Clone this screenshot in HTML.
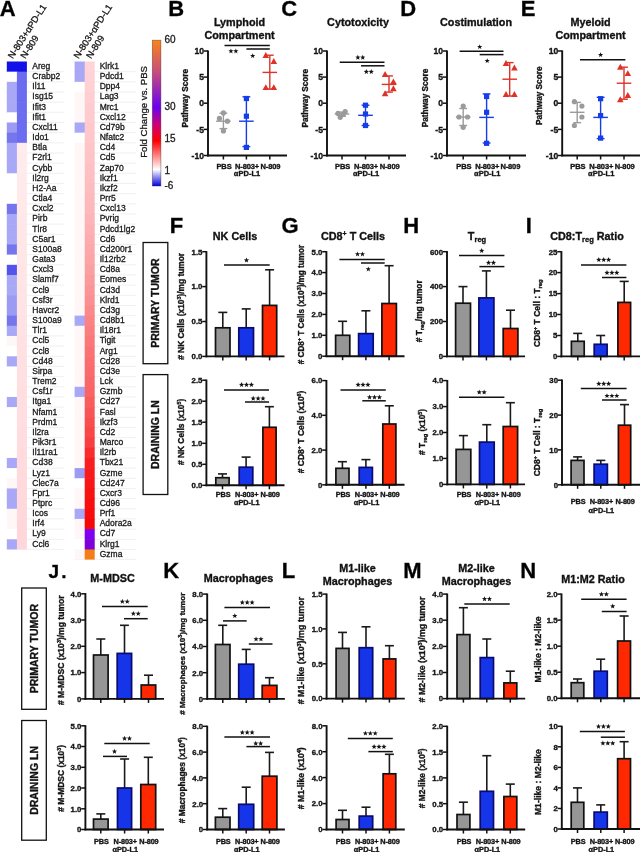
<!DOCTYPE html>
<html><head><meta charset="utf-8"><style>
html,body{margin:0;padding:0;background:#fff;width:640px;height:852px;overflow:hidden}
svg{display:block;will-change:transform}
text{stroke:#1a1a1a;stroke-width:0.3px}
text[font-weight="bold"]{stroke:#151515;stroke-width:0.35px}
text{font-family:"Liberation Sans", sans-serif}
</style></head><body>
<svg width="640" height="852" viewBox="0 0 640 852">
<rect width="640" height="852" fill="#fff"/>
<line x1="6.8" y1="71.66" x2="64.0" y2="71.66" stroke="#ececec" stroke-width="0.8"/>
<line x1="6.8" y1="81.83" x2="64.0" y2="81.83" stroke="#ececec" stroke-width="0.8"/>
<line x1="6.8" y1="92.00" x2="64.0" y2="92.00" stroke="#ececec" stroke-width="0.8"/>
<line x1="6.8" y1="102.16" x2="64.0" y2="102.16" stroke="#ececec" stroke-width="0.8"/>
<line x1="6.8" y1="112.32" x2="64.0" y2="112.32" stroke="#ececec" stroke-width="0.8"/>
<line x1="6.8" y1="122.49" x2="64.0" y2="122.49" stroke="#ececec" stroke-width="0.8"/>
<line x1="6.8" y1="132.66" x2="64.0" y2="132.66" stroke="#ececec" stroke-width="0.8"/>
<line x1="6.8" y1="142.82" x2="64.0" y2="142.82" stroke="#ececec" stroke-width="0.8"/>
<line x1="6.8" y1="152.98" x2="64.0" y2="152.98" stroke="#ececec" stroke-width="0.8"/>
<line x1="6.8" y1="163.15" x2="64.0" y2="163.15" stroke="#ececec" stroke-width="0.8"/>
<line x1="6.8" y1="173.31" x2="64.0" y2="173.31" stroke="#ececec" stroke-width="0.8"/>
<line x1="6.8" y1="183.48" x2="64.0" y2="183.48" stroke="#ececec" stroke-width="0.8"/>
<line x1="6.8" y1="193.64" x2="64.0" y2="193.64" stroke="#ececec" stroke-width="0.8"/>
<line x1="6.8" y1="203.81" x2="64.0" y2="203.81" stroke="#ececec" stroke-width="0.8"/>
<line x1="6.8" y1="213.97" x2="64.0" y2="213.97" stroke="#ececec" stroke-width="0.8"/>
<line x1="6.8" y1="224.14" x2="64.0" y2="224.14" stroke="#ececec" stroke-width="0.8"/>
<line x1="6.8" y1="234.30" x2="64.0" y2="234.30" stroke="#ececec" stroke-width="0.8"/>
<line x1="6.8" y1="244.47" x2="64.0" y2="244.47" stroke="#ececec" stroke-width="0.8"/>
<line x1="6.8" y1="254.63" x2="64.0" y2="254.63" stroke="#ececec" stroke-width="0.8"/>
<line x1="6.8" y1="264.80" x2="64.0" y2="264.80" stroke="#ececec" stroke-width="0.8"/>
<line x1="6.8" y1="274.96" x2="64.0" y2="274.96" stroke="#ececec" stroke-width="0.8"/>
<line x1="6.8" y1="285.13" x2="64.0" y2="285.13" stroke="#ececec" stroke-width="0.8"/>
<line x1="6.8" y1="295.30" x2="64.0" y2="295.30" stroke="#ececec" stroke-width="0.8"/>
<line x1="6.8" y1="305.46" x2="64.0" y2="305.46" stroke="#ececec" stroke-width="0.8"/>
<line x1="6.8" y1="315.62" x2="64.0" y2="315.62" stroke="#ececec" stroke-width="0.8"/>
<line x1="6.8" y1="325.79" x2="64.0" y2="325.79" stroke="#ececec" stroke-width="0.8"/>
<line x1="6.8" y1="335.95" x2="64.0" y2="335.95" stroke="#ececec" stroke-width="0.8"/>
<line x1="6.8" y1="346.12" x2="64.0" y2="346.12" stroke="#ececec" stroke-width="0.8"/>
<line x1="6.8" y1="356.29" x2="64.0" y2="356.29" stroke="#ececec" stroke-width="0.8"/>
<line x1="6.8" y1="366.45" x2="64.0" y2="366.45" stroke="#ececec" stroke-width="0.8"/>
<line x1="6.8" y1="376.62" x2="64.0" y2="376.62" stroke="#ececec" stroke-width="0.8"/>
<line x1="6.8" y1="386.78" x2="64.0" y2="386.78" stroke="#ececec" stroke-width="0.8"/>
<line x1="6.8" y1="396.94" x2="64.0" y2="396.94" stroke="#ececec" stroke-width="0.8"/>
<line x1="6.8" y1="407.11" x2="64.0" y2="407.11" stroke="#ececec" stroke-width="0.8"/>
<line x1="6.8" y1="417.27" x2="64.0" y2="417.27" stroke="#ececec" stroke-width="0.8"/>
<line x1="6.8" y1="427.44" x2="64.0" y2="427.44" stroke="#ececec" stroke-width="0.8"/>
<line x1="6.8" y1="437.60" x2="64.0" y2="437.60" stroke="#ececec" stroke-width="0.8"/>
<line x1="6.8" y1="447.77" x2="64.0" y2="447.77" stroke="#ececec" stroke-width="0.8"/>
<line x1="6.8" y1="457.94" x2="64.0" y2="457.94" stroke="#ececec" stroke-width="0.8"/>
<line x1="6.8" y1="468.10" x2="64.0" y2="468.10" stroke="#ececec" stroke-width="0.8"/>
<line x1="6.8" y1="478.26" x2="64.0" y2="478.26" stroke="#ececec" stroke-width="0.8"/>
<line x1="6.8" y1="488.43" x2="64.0" y2="488.43" stroke="#ececec" stroke-width="0.8"/>
<line x1="6.8" y1="498.59" x2="64.0" y2="498.59" stroke="#ececec" stroke-width="0.8"/>
<line x1="6.8" y1="508.76" x2="64.0" y2="508.76" stroke="#ececec" stroke-width="0.8"/>
<line x1="6.8" y1="518.92" x2="64.0" y2="518.92" stroke="#ececec" stroke-width="0.8"/>
<line x1="6.8" y1="529.09" x2="64.0" y2="529.09" stroke="#ececec" stroke-width="0.8"/>
<line x1="6.8" y1="539.25" x2="64.0" y2="539.25" stroke="#ececec" stroke-width="0.8"/>
<line x1="6.8" y1="549.42" x2="64.0" y2="549.42" stroke="#ececec" stroke-width="0.8"/>
<rect x="6.8" y="61.50" width="10.4" height="10.76" fill="rgb(18,18,232)"/>
<rect x="16.9" y="61.50" width="10.0" height="10.76" fill="rgb(18,18,232)"/>
<text x="32.3" y="68.90" font-size="8.5" fill="#161616">Areg</text>
<rect x="6.8" y="71.66" width="10.4" height="10.76" fill="rgb(255,255,255)"/>
<rect x="16.9" y="71.66" width="10.0" height="10.76" fill="rgb(108,108,240)"/>
<text x="32.3" y="79.06" font-size="8.5" fill="#161616">Crabp2</text>
<rect x="6.8" y="81.83" width="10.4" height="10.76" fill="rgb(168,168,246)"/>
<rect x="16.9" y="81.83" width="10.0" height="10.76" fill="rgb(108,108,240)"/>
<text x="32.3" y="89.23" font-size="8.5" fill="#161616">Il11</text>
<rect x="6.8" y="92.00" width="10.4" height="10.76" fill="rgb(168,168,246)"/>
<rect x="16.9" y="92.00" width="10.0" height="10.76" fill="rgb(108,108,240)"/>
<text x="32.3" y="99.40" font-size="8.5" fill="#161616">Isg15</text>
<rect x="6.8" y="102.16" width="10.4" height="10.76" fill="rgb(168,168,246)"/>
<rect x="16.9" y="102.16" width="10.0" height="10.76" fill="rgb(108,108,240)"/>
<text x="32.3" y="109.56" font-size="8.5" fill="#161616">Ifit3</text>
<rect x="6.8" y="112.32" width="10.4" height="10.76" fill="rgb(255,255,255)"/>
<rect x="16.9" y="112.32" width="10.0" height="10.76" fill="rgb(108,108,240)"/>
<text x="32.3" y="119.72" font-size="8.5" fill="#161616">Ifit1</text>
<rect x="6.8" y="122.49" width="10.4" height="10.76" fill="rgb(155,155,244)"/>
<rect x="16.9" y="122.49" width="10.0" height="10.76" fill="rgb(108,108,240)"/>
<text x="32.3" y="129.89" font-size="8.5" fill="#161616">Cxcl11</text>
<rect x="6.8" y="132.66" width="10.4" height="10.76" fill="rgb(118,118,236)"/>
<rect x="16.9" y="132.66" width="10.0" height="10.76" fill="rgb(108,108,240)"/>
<text x="32.3" y="140.06" font-size="8.5" fill="#161616">Ido1</text>
<rect x="6.8" y="142.82" width="10.4" height="10.76" fill="rgb(168,168,246)"/>
<rect x="16.9" y="142.82" width="10.0" height="10.76" fill="rgb(255,236,236)"/>
<text x="32.3" y="150.22" font-size="8.5" fill="#161616">Btla</text>
<rect x="6.8" y="152.98" width="10.4" height="10.76" fill="rgb(168,168,246)"/>
<rect x="16.9" y="152.98" width="10.0" height="10.76" fill="rgb(255,235,236)"/>
<text x="32.3" y="160.38" font-size="8.5" fill="#161616">F2rl1</text>
<rect x="6.8" y="163.15" width="10.4" height="10.76" fill="rgb(168,168,246)"/>
<rect x="16.9" y="163.15" width="10.0" height="10.76" fill="rgb(255,235,235)"/>
<text x="32.3" y="170.55" font-size="8.5" fill="#161616">Cybb</text>
<rect x="6.8" y="173.31" width="10.4" height="10.76" fill="rgb(255,255,255)"/>
<rect x="16.9" y="173.31" width="10.0" height="10.76" fill="rgb(255,234,235)"/>
<text x="32.3" y="180.72" font-size="8.5" fill="#161616">Il2rg</text>
<rect x="6.8" y="183.48" width="10.4" height="10.76" fill="rgb(255,255,255)"/>
<rect x="16.9" y="183.48" width="10.0" height="10.76" fill="rgb(255,234,234)"/>
<text x="32.3" y="190.88" font-size="8.5" fill="#161616">H2-Aa</text>
<rect x="6.8" y="193.64" width="10.4" height="10.76" fill="rgb(255,255,255)"/>
<rect x="16.9" y="193.64" width="10.0" height="10.76" fill="rgb(255,233,234)"/>
<text x="32.3" y="201.04" font-size="8.5" fill="#161616">Ctla4</text>
<rect x="6.8" y="203.81" width="10.4" height="10.76" fill="rgb(118,118,236)"/>
<rect x="16.9" y="203.81" width="10.0" height="10.76" fill="rgb(255,233,233)"/>
<text x="32.3" y="211.21" font-size="8.5" fill="#161616">Cxcl2</text>
<rect x="6.8" y="213.97" width="10.4" height="10.76" fill="rgb(168,168,246)"/>
<rect x="16.9" y="213.97" width="10.0" height="10.76" fill="rgb(255,232,233)"/>
<text x="32.3" y="221.38" font-size="8.5" fill="#161616">Pirb</text>
<rect x="6.8" y="224.14" width="10.4" height="10.76" fill="rgb(168,168,246)"/>
<rect x="16.9" y="224.14" width="10.0" height="10.76" fill="rgb(255,231,232)"/>
<text x="32.3" y="231.54" font-size="8.5" fill="#161616">Tlr8</text>
<rect x="6.8" y="234.30" width="10.4" height="10.76" fill="rgb(168,168,246)"/>
<rect x="16.9" y="234.30" width="10.0" height="10.76" fill="rgb(255,231,232)"/>
<text x="32.3" y="241.70" font-size="8.5" fill="#161616">C5ar1</text>
<rect x="6.8" y="244.47" width="10.4" height="10.76" fill="rgb(118,118,236)"/>
<rect x="16.9" y="244.47" width="10.0" height="10.76" fill="rgb(255,230,231)"/>
<text x="32.3" y="251.87" font-size="8.5" fill="#161616">S100a8</text>
<rect x="6.8" y="254.63" width="10.4" height="10.76" fill="rgb(255,255,255)"/>
<rect x="16.9" y="254.63" width="10.0" height="10.76" fill="rgb(255,230,231)"/>
<text x="32.3" y="262.03" font-size="8.5" fill="#161616">Gata3</text>
<rect x="6.8" y="264.80" width="10.4" height="10.76" fill="rgb(82,82,236)"/>
<rect x="16.9" y="264.80" width="10.0" height="10.76" fill="rgb(255,229,230)"/>
<text x="32.3" y="272.20" font-size="8.5" fill="#161616">Cxcl3</text>
<rect x="6.8" y="274.96" width="10.4" height="10.76" fill="rgb(168,168,246)"/>
<rect x="16.9" y="274.96" width="10.0" height="10.76" fill="rgb(255,229,230)"/>
<text x="32.3" y="282.36" font-size="8.5" fill="#161616">Slamf7</text>
<rect x="6.8" y="285.13" width="10.4" height="10.76" fill="rgb(168,168,246)"/>
<rect x="16.9" y="285.13" width="10.0" height="10.76" fill="rgb(255,228,230)"/>
<text x="32.3" y="292.53" font-size="8.5" fill="#161616">Ccl9</text>
<rect x="6.8" y="295.29" width="10.4" height="10.76" fill="rgb(155,155,244)"/>
<rect x="16.9" y="295.29" width="10.0" height="10.76" fill="rgb(255,228,229)"/>
<text x="32.3" y="302.69" font-size="8.5" fill="#161616">Csf3r</text>
<rect x="6.8" y="305.46" width="10.4" height="10.76" fill="rgb(155,155,244)"/>
<rect x="16.9" y="305.46" width="10.0" height="10.76" fill="rgb(255,227,229)"/>
<text x="32.3" y="312.86" font-size="8.5" fill="#161616">Havcr2</text>
<rect x="6.8" y="315.62" width="10.4" height="10.76" fill="rgb(118,118,236)"/>
<rect x="16.9" y="315.62" width="10.0" height="10.76" fill="rgb(255,226,228)"/>
<text x="32.3" y="323.02" font-size="8.5" fill="#161616">S100a9</text>
<rect x="6.8" y="325.79" width="10.4" height="10.76" fill="rgb(168,168,246)"/>
<rect x="16.9" y="325.79" width="10.0" height="10.76" fill="rgb(255,226,228)"/>
<text x="32.3" y="333.19" font-size="8.5" fill="#161616">Tlr1</text>
<rect x="6.8" y="335.95" width="10.4" height="10.76" fill="rgb(255,247,247)"/>
<rect x="16.9" y="335.95" width="10.0" height="10.76" fill="rgb(255,225,227)"/>
<text x="32.3" y="343.35" font-size="8.5" fill="#161616">Ccl5</text>
<rect x="6.8" y="346.12" width="10.4" height="10.76" fill="rgb(255,255,255)"/>
<rect x="16.9" y="346.12" width="10.0" height="10.76" fill="rgb(255,225,227)"/>
<text x="32.3" y="353.52" font-size="8.5" fill="#161616">Ccl8</text>
<rect x="6.8" y="356.28" width="10.4" height="10.76" fill="rgb(168,168,246)"/>
<rect x="16.9" y="356.28" width="10.0" height="10.76" fill="rgb(255,224,226)"/>
<text x="32.3" y="363.68" font-size="8.5" fill="#161616">Cd48</text>
<rect x="6.8" y="366.45" width="10.4" height="10.76" fill="rgb(255,255,255)"/>
<rect x="16.9" y="366.45" width="10.0" height="10.76" fill="rgb(255,224,226)"/>
<text x="32.3" y="373.85" font-size="8.5" fill="#161616">Sirpa</text>
<rect x="6.8" y="376.61" width="10.4" height="10.76" fill="rgb(255,255,255)"/>
<rect x="16.9" y="376.61" width="10.0" height="10.76" fill="rgb(255,223,225)"/>
<text x="32.3" y="384.01" font-size="8.5" fill="#161616">Trem2</text>
<rect x="6.8" y="386.78" width="10.4" height="10.76" fill="rgb(255,255,255)"/>
<rect x="16.9" y="386.78" width="10.0" height="10.76" fill="rgb(255,222,225)"/>
<text x="32.3" y="394.18" font-size="8.5" fill="#161616">Csf1r</text>
<rect x="6.8" y="396.94" width="10.4" height="10.76" fill="rgb(168,168,246)"/>
<rect x="16.9" y="396.94" width="10.0" height="10.76" fill="rgb(255,222,224)"/>
<text x="32.3" y="404.34" font-size="8.5" fill="#161616">Itga1</text>
<rect x="6.8" y="407.11" width="10.4" height="10.76" fill="rgb(255,255,255)"/>
<rect x="16.9" y="407.11" width="10.0" height="10.76" fill="rgb(255,221,224)"/>
<text x="32.3" y="414.51" font-size="8.5" fill="#161616">Nfam1</text>
<rect x="6.8" y="417.27" width="10.4" height="10.76" fill="rgb(255,255,255)"/>
<rect x="16.9" y="417.27" width="10.0" height="10.76" fill="rgb(255,221,224)"/>
<text x="32.3" y="424.67" font-size="8.5" fill="#161616">Prdm1</text>
<rect x="6.8" y="427.44" width="10.4" height="10.76" fill="rgb(255,255,255)"/>
<rect x="16.9" y="427.44" width="10.0" height="10.76" fill="rgb(255,220,223)"/>
<text x="32.3" y="434.84" font-size="8.5" fill="#161616">Il2ra</text>
<rect x="6.8" y="437.60" width="10.4" height="10.76" fill="rgb(255,255,255)"/>
<rect x="16.9" y="437.60" width="10.0" height="10.76" fill="rgb(255,220,223)"/>
<text x="32.3" y="445.00" font-size="8.5" fill="#161616">Pik3r1</text>
<rect x="6.8" y="447.77" width="10.4" height="10.76" fill="rgb(255,255,255)"/>
<rect x="16.9" y="447.77" width="10.0" height="10.76" fill="rgb(255,219,222)"/>
<text x="32.3" y="455.17" font-size="8.5" fill="#161616">Il11ra1</text>
<rect x="6.8" y="457.93" width="10.4" height="10.76" fill="rgb(168,168,246)"/>
<rect x="16.9" y="457.93" width="10.0" height="10.76" fill="rgb(255,219,222)"/>
<text x="32.3" y="465.33" font-size="8.5" fill="#161616">Cd38</text>
<rect x="6.8" y="468.10" width="10.4" height="10.76" fill="rgb(255,255,255)"/>
<rect x="16.9" y="468.10" width="10.0" height="10.76" fill="rgb(255,218,221)"/>
<text x="32.3" y="475.50" font-size="8.5" fill="#161616">Lyz1</text>
<rect x="6.8" y="478.26" width="10.4" height="10.76" fill="rgb(255,247,247)"/>
<rect x="16.9" y="478.26" width="10.0" height="10.76" fill="rgb(255,217,221)"/>
<text x="32.3" y="485.66" font-size="8.5" fill="#161616">Clec7a</text>
<rect x="6.8" y="488.43" width="10.4" height="10.76" fill="rgb(168,168,246)"/>
<rect x="16.9" y="488.43" width="10.0" height="10.76" fill="rgb(255,217,220)"/>
<text x="32.3" y="495.83" font-size="8.5" fill="#161616">Fpr1</text>
<rect x="6.8" y="498.59" width="10.4" height="10.76" fill="rgb(168,168,246)"/>
<rect x="16.9" y="498.59" width="10.0" height="10.76" fill="rgb(255,216,220)"/>
<text x="32.3" y="505.99" font-size="8.5" fill="#161616">Ptprc</text>
<rect x="6.8" y="508.76" width="10.4" height="10.76" fill="rgb(255,247,247)"/>
<rect x="16.9" y="508.76" width="10.0" height="10.76" fill="rgb(255,216,219)"/>
<text x="32.3" y="516.16" font-size="8.5" fill="#161616">Icos</text>
<rect x="6.8" y="518.92" width="10.4" height="10.76" fill="rgb(255,247,247)"/>
<rect x="16.9" y="518.92" width="10.0" height="10.76" fill="rgb(255,215,219)"/>
<text x="32.3" y="526.32" font-size="8.5" fill="#161616">Irf4</text>
<rect x="6.8" y="529.09" width="10.4" height="10.76" fill="rgb(255,255,255)"/>
<rect x="16.9" y="529.09" width="10.0" height="10.76" fill="rgb(255,215,218)"/>
<text x="32.3" y="536.49" font-size="8.5" fill="#161616">Ly9</text>
<rect x="6.8" y="539.25" width="10.4" height="10.16" fill="rgb(168,168,246)"/>
<rect x="16.9" y="539.25" width="10.0" height="10.16" fill="rgb(255,214,218)"/>
<text x="32.3" y="546.65" font-size="8.5" fill="#161616">Ccl6</text>
<line x1="74.6" y1="71.66" x2="136.0" y2="71.66" stroke="#ececec" stroke-width="0.8"/>
<line x1="74.6" y1="81.83" x2="136.0" y2="81.83" stroke="#ececec" stroke-width="0.8"/>
<line x1="74.6" y1="92.00" x2="136.0" y2="92.00" stroke="#ececec" stroke-width="0.8"/>
<line x1="74.6" y1="102.16" x2="136.0" y2="102.16" stroke="#ececec" stroke-width="0.8"/>
<line x1="74.6" y1="112.32" x2="136.0" y2="112.32" stroke="#ececec" stroke-width="0.8"/>
<line x1="74.6" y1="122.49" x2="136.0" y2="122.49" stroke="#ececec" stroke-width="0.8"/>
<line x1="74.6" y1="132.66" x2="136.0" y2="132.66" stroke="#ececec" stroke-width="0.8"/>
<line x1="74.6" y1="142.82" x2="136.0" y2="142.82" stroke="#ececec" stroke-width="0.8"/>
<line x1="74.6" y1="152.98" x2="136.0" y2="152.98" stroke="#ececec" stroke-width="0.8"/>
<line x1="74.6" y1="163.15" x2="136.0" y2="163.15" stroke="#ececec" stroke-width="0.8"/>
<line x1="74.6" y1="173.31" x2="136.0" y2="173.31" stroke="#ececec" stroke-width="0.8"/>
<line x1="74.6" y1="183.48" x2="136.0" y2="183.48" stroke="#ececec" stroke-width="0.8"/>
<line x1="74.6" y1="193.64" x2="136.0" y2="193.64" stroke="#ececec" stroke-width="0.8"/>
<line x1="74.6" y1="203.81" x2="136.0" y2="203.81" stroke="#ececec" stroke-width="0.8"/>
<line x1="74.6" y1="213.97" x2="136.0" y2="213.97" stroke="#ececec" stroke-width="0.8"/>
<line x1="74.6" y1="224.14" x2="136.0" y2="224.14" stroke="#ececec" stroke-width="0.8"/>
<line x1="74.6" y1="234.30" x2="136.0" y2="234.30" stroke="#ececec" stroke-width="0.8"/>
<line x1="74.6" y1="244.47" x2="136.0" y2="244.47" stroke="#ececec" stroke-width="0.8"/>
<line x1="74.6" y1="254.63" x2="136.0" y2="254.63" stroke="#ececec" stroke-width="0.8"/>
<line x1="74.6" y1="264.80" x2="136.0" y2="264.80" stroke="#ececec" stroke-width="0.8"/>
<line x1="74.6" y1="274.96" x2="136.0" y2="274.96" stroke="#ececec" stroke-width="0.8"/>
<line x1="74.6" y1="285.13" x2="136.0" y2="285.13" stroke="#ececec" stroke-width="0.8"/>
<line x1="74.6" y1="295.30" x2="136.0" y2="295.30" stroke="#ececec" stroke-width="0.8"/>
<line x1="74.6" y1="305.46" x2="136.0" y2="305.46" stroke="#ececec" stroke-width="0.8"/>
<line x1="74.6" y1="315.62" x2="136.0" y2="315.62" stroke="#ececec" stroke-width="0.8"/>
<line x1="74.6" y1="325.79" x2="136.0" y2="325.79" stroke="#ececec" stroke-width="0.8"/>
<line x1="74.6" y1="335.95" x2="136.0" y2="335.95" stroke="#ececec" stroke-width="0.8"/>
<line x1="74.6" y1="346.12" x2="136.0" y2="346.12" stroke="#ececec" stroke-width="0.8"/>
<line x1="74.6" y1="356.29" x2="136.0" y2="356.29" stroke="#ececec" stroke-width="0.8"/>
<line x1="74.6" y1="366.45" x2="136.0" y2="366.45" stroke="#ececec" stroke-width="0.8"/>
<line x1="74.6" y1="376.62" x2="136.0" y2="376.62" stroke="#ececec" stroke-width="0.8"/>
<line x1="74.6" y1="386.78" x2="136.0" y2="386.78" stroke="#ececec" stroke-width="0.8"/>
<line x1="74.6" y1="396.94" x2="136.0" y2="396.94" stroke="#ececec" stroke-width="0.8"/>
<line x1="74.6" y1="407.11" x2="136.0" y2="407.11" stroke="#ececec" stroke-width="0.8"/>
<line x1="74.6" y1="417.27" x2="136.0" y2="417.27" stroke="#ececec" stroke-width="0.8"/>
<line x1="74.6" y1="427.44" x2="136.0" y2="427.44" stroke="#ececec" stroke-width="0.8"/>
<line x1="74.6" y1="437.60" x2="136.0" y2="437.60" stroke="#ececec" stroke-width="0.8"/>
<line x1="74.6" y1="447.77" x2="136.0" y2="447.77" stroke="#ececec" stroke-width="0.8"/>
<line x1="74.6" y1="457.94" x2="136.0" y2="457.94" stroke="#ececec" stroke-width="0.8"/>
<line x1="74.6" y1="468.10" x2="136.0" y2="468.10" stroke="#ececec" stroke-width="0.8"/>
<line x1="74.6" y1="478.26" x2="136.0" y2="478.26" stroke="#ececec" stroke-width="0.8"/>
<line x1="74.6" y1="488.43" x2="136.0" y2="488.43" stroke="#ececec" stroke-width="0.8"/>
<line x1="74.6" y1="498.59" x2="136.0" y2="498.59" stroke="#ececec" stroke-width="0.8"/>
<line x1="74.6" y1="508.76" x2="136.0" y2="508.76" stroke="#ececec" stroke-width="0.8"/>
<line x1="74.6" y1="518.92" x2="136.0" y2="518.92" stroke="#ececec" stroke-width="0.8"/>
<line x1="74.6" y1="529.09" x2="136.0" y2="529.09" stroke="#ececec" stroke-width="0.8"/>
<line x1="74.6" y1="539.25" x2="136.0" y2="539.25" stroke="#ececec" stroke-width="0.8"/>
<line x1="74.6" y1="549.42" x2="136.0" y2="549.42" stroke="#ececec" stroke-width="0.8"/>
<line x1="74.6" y1="559.58" x2="136.0" y2="559.58" stroke="#ececec" stroke-width="0.8"/>
<rect x="74.6" y="61.50" width="10.4" height="10.76" fill="rgb(168,168,246)"/>
<rect x="84.7" y="61.50" width="10.0" height="10.76" fill="rgb(255,212,216)"/>
<text x="99.7" y="68.90" font-size="8.5" fill="#161616">Klrk1</text>
<rect x="74.6" y="71.66" width="10.4" height="10.76" fill="rgb(168,168,246)"/>
<rect x="84.7" y="71.66" width="10.0" height="10.76" fill="rgb(255,210,214)"/>
<text x="99.7" y="79.06" font-size="8.5" fill="#161616">Pdcd1</text>
<rect x="74.6" y="81.83" width="10.4" height="10.76" fill="rgb(255,255,255)"/>
<rect x="84.7" y="81.83" width="10.0" height="10.76" fill="rgb(255,208,212)"/>
<text x="99.7" y="89.23" font-size="8.5" fill="#161616">Dpp4</text>
<rect x="74.6" y="92.00" width="10.4" height="10.76" fill="rgb(255,247,247)"/>
<rect x="84.7" y="92.00" width="10.0" height="10.76" fill="rgb(254,206,210)"/>
<text x="99.7" y="99.40" font-size="8.5" fill="#161616">Lag3</text>
<rect x="74.6" y="102.16" width="10.4" height="10.76" fill="rgb(255,247,247)"/>
<rect x="84.7" y="102.16" width="10.0" height="10.76" fill="rgb(254,204,208)"/>
<text x="99.7" y="109.56" font-size="8.5" fill="#161616">Mrc1</text>
<rect x="74.6" y="112.32" width="10.4" height="10.76" fill="rgb(255,247,247)"/>
<rect x="84.7" y="112.32" width="10.0" height="10.76" fill="rgb(254,203,206)"/>
<text x="99.7" y="119.72" font-size="8.5" fill="#161616">Cxcl12</text>
<rect x="74.6" y="122.49" width="10.4" height="10.76" fill="rgb(168,168,246)"/>
<rect x="84.7" y="122.49" width="10.0" height="10.76" fill="rgb(254,201,204)"/>
<text x="99.7" y="129.89" font-size="8.5" fill="#161616">Cd79b</text>
<rect x="74.6" y="132.66" width="10.4" height="10.76" fill="rgb(255,255,255)"/>
<rect x="84.7" y="132.66" width="10.0" height="10.76" fill="rgb(254,199,202)"/>
<text x="99.7" y="140.06" font-size="8.5" fill="#161616">Nfatc2</text>
<rect x="74.6" y="142.82" width="10.4" height="10.76" fill="rgb(255,247,247)"/>
<rect x="84.7" y="142.82" width="10.0" height="10.76" fill="rgb(254,197,200)"/>
<text x="99.7" y="150.22" font-size="8.5" fill="#161616">Cd4</text>
<rect x="74.6" y="152.98" width="10.4" height="10.76" fill="rgb(255,247,247)"/>
<rect x="84.7" y="152.98" width="10.0" height="10.76" fill="rgb(253,195,198)"/>
<text x="99.7" y="160.38" font-size="8.5" fill="#161616">Cd5</text>
<rect x="74.6" y="163.15" width="10.4" height="10.76" fill="rgb(255,247,247)"/>
<rect x="84.7" y="163.15" width="10.0" height="10.76" fill="rgb(253,193,196)"/>
<text x="99.7" y="170.55" font-size="8.5" fill="#161616">Zap70</text>
<rect x="74.6" y="173.31" width="10.4" height="10.76" fill="rgb(255,247,247)"/>
<rect x="84.7" y="173.31" width="10.0" height="10.76" fill="rgb(253,191,194)"/>
<text x="99.7" y="180.72" font-size="8.5" fill="#161616">Ikzf1</text>
<rect x="74.6" y="183.48" width="10.4" height="10.76" fill="rgb(255,247,247)"/>
<rect x="84.7" y="183.48" width="10.0" height="10.76" fill="rgb(253,188,191)"/>
<text x="99.7" y="190.88" font-size="8.5" fill="#161616">Ikzf2</text>
<rect x="74.6" y="193.64" width="10.4" height="10.76" fill="rgb(255,247,247)"/>
<rect x="84.7" y="193.64" width="10.0" height="10.76" fill="rgb(253,186,189)"/>
<text x="99.7" y="201.04" font-size="8.5" fill="#161616">Prr5</text>
<rect x="74.6" y="203.81" width="10.4" height="10.76" fill="rgb(255,247,247)"/>
<rect x="84.7" y="203.81" width="10.0" height="10.76" fill="rgb(253,184,187)"/>
<text x="99.7" y="211.21" font-size="8.5" fill="#161616">Cxcl13</text>
<rect x="74.6" y="213.97" width="10.4" height="10.76" fill="rgb(255,247,247)"/>
<rect x="84.7" y="213.97" width="10.0" height="10.76" fill="rgb(252,180,183)"/>
<text x="99.7" y="221.38" font-size="8.5" fill="#161616">Pvrig</text>
<rect x="74.6" y="224.14" width="10.4" height="10.76" fill="rgb(255,247,247)"/>
<rect x="84.7" y="224.14" width="10.0" height="10.76" fill="rgb(252,176,179)"/>
<text x="99.7" y="231.54" font-size="8.5" fill="#161616">Pdcd1lg2</text>
<rect x="74.6" y="234.30" width="10.4" height="10.76" fill="rgb(255,247,247)"/>
<rect x="84.7" y="234.30" width="10.0" height="10.76" fill="rgb(252,172,174)"/>
<text x="99.7" y="241.70" font-size="8.5" fill="#161616">Cd6</text>
<rect x="74.6" y="244.47" width="10.4" height="10.76" fill="rgb(255,247,247)"/>
<rect x="84.7" y="244.47" width="10.0" height="10.76" fill="rgb(252,168,170)"/>
<text x="99.7" y="251.87" font-size="8.5" fill="#161616">Cd200r1</text>
<rect x="74.6" y="254.63" width="10.4" height="10.76" fill="rgb(255,247,247)"/>
<rect x="84.7" y="254.63" width="10.0" height="10.76" fill="rgb(252,164,166)"/>
<text x="99.7" y="262.03" font-size="8.5" fill="#161616">Il12rb2</text>
<rect x="74.6" y="264.80" width="10.4" height="10.76" fill="rgb(255,247,247)"/>
<rect x="84.7" y="264.80" width="10.0" height="10.76" fill="rgb(251,160,162)"/>
<text x="99.7" y="272.20" font-size="8.5" fill="#161616">Cd8a</text>
<rect x="74.6" y="274.96" width="10.4" height="10.76" fill="rgb(255,247,247)"/>
<rect x="84.7" y="274.96" width="10.0" height="10.76" fill="rgb(251,154,156)"/>
<text x="99.7" y="282.36" font-size="8.5" fill="#161616">Eomes</text>
<rect x="74.6" y="285.13" width="10.4" height="10.76" fill="rgb(255,247,247)"/>
<rect x="84.7" y="285.13" width="10.0" height="10.76" fill="rgb(251,148,151)"/>
<text x="99.7" y="292.53" font-size="8.5" fill="#161616">Cd3d</text>
<rect x="74.6" y="295.29" width="10.4" height="10.76" fill="rgb(255,247,247)"/>
<rect x="84.7" y="295.29" width="10.0" height="10.76" fill="rgb(251,143,145)"/>
<text x="99.7" y="302.69" font-size="8.5" fill="#161616">Klrd1</text>
<rect x="74.6" y="305.46" width="10.4" height="10.76" fill="rgb(255,247,247)"/>
<rect x="84.7" y="305.46" width="10.0" height="10.76" fill="rgb(251,137,139)"/>
<text x="99.7" y="312.86" font-size="8.5" fill="#161616">Cd3g</text>
<rect x="74.6" y="315.62" width="10.4" height="10.76" fill="rgb(168,168,246)"/>
<rect x="84.7" y="315.62" width="10.0" height="10.76" fill="rgb(251,131,133)"/>
<text x="99.7" y="323.02" font-size="8.5" fill="#161616">Cd8b1</text>
<rect x="74.6" y="325.79" width="10.4" height="10.76" fill="rgb(255,247,247)"/>
<rect x="84.7" y="325.79" width="10.0" height="10.76" fill="rgb(250,126,127)"/>
<text x="99.7" y="333.19" font-size="8.5" fill="#161616">Il18r1</text>
<rect x="74.6" y="335.95" width="10.4" height="10.76" fill="rgb(255,247,247)"/>
<rect x="84.7" y="335.95" width="10.0" height="10.76" fill="rgb(250,120,121)"/>
<text x="99.7" y="343.35" font-size="8.5" fill="#161616">Tigit</text>
<rect x="74.6" y="346.12" width="10.4" height="10.76" fill="rgb(255,247,247)"/>
<rect x="84.7" y="346.12" width="10.0" height="10.76" fill="rgb(250,114,116)"/>
<text x="99.7" y="353.52" font-size="8.5" fill="#161616">Arg1</text>
<rect x="74.6" y="356.28" width="10.4" height="10.76" fill="rgb(255,247,247)"/>
<rect x="84.7" y="356.28" width="10.0" height="10.76" fill="rgb(250,110,112)"/>
<text x="99.7" y="363.68" font-size="8.5" fill="#161616">Cd28</text>
<rect x="74.6" y="366.45" width="10.4" height="10.76" fill="rgb(255,247,247)"/>
<rect x="84.7" y="366.45" width="10.0" height="10.76" fill="rgb(250,107,108)"/>
<text x="99.7" y="373.85" font-size="8.5" fill="#161616">Cd3e</text>
<rect x="74.6" y="376.61" width="10.4" height="10.76" fill="rgb(255,247,247)"/>
<rect x="84.7" y="376.61" width="10.0" height="10.76" fill="rgb(249,104,105)"/>
<text x="99.7" y="384.01" font-size="8.5" fill="#161616">Lck</text>
<rect x="74.6" y="386.78" width="10.4" height="10.76" fill="rgb(168,168,246)"/>
<rect x="84.7" y="386.78" width="10.0" height="10.76" fill="rgb(249,100,101)"/>
<text x="99.7" y="394.18" font-size="8.5" fill="#161616">Gzmb</text>
<rect x="74.6" y="396.94" width="10.4" height="10.76" fill="rgb(255,247,247)"/>
<rect x="84.7" y="396.94" width="10.0" height="10.76" fill="rgb(249,92,93)"/>
<text x="99.7" y="404.34" font-size="8.5" fill="#161616">Cd27</text>
<rect x="74.6" y="407.11" width="10.4" height="10.76" fill="rgb(255,247,247)"/>
<rect x="84.7" y="407.11" width="10.0" height="10.76" fill="rgb(249,85,86)"/>
<text x="99.7" y="414.51" font-size="8.5" fill="#161616">Fasl</text>
<rect x="74.6" y="417.27" width="10.4" height="10.76" fill="rgb(255,247,247)"/>
<rect x="84.7" y="417.27" width="10.0" height="10.76" fill="rgb(249,77,78)"/>
<text x="99.7" y="424.67" font-size="8.5" fill="#161616">Ikzf3</text>
<rect x="74.6" y="427.44" width="10.4" height="10.76" fill="rgb(255,247,247)"/>
<rect x="84.7" y="427.44" width="10.0" height="10.76" fill="rgb(249,70,70)"/>
<text x="99.7" y="434.84" font-size="8.5" fill="#161616">Cd2</text>
<rect x="74.6" y="437.60" width="10.4" height="10.76" fill="rgb(255,247,247)"/>
<rect x="84.7" y="437.60" width="10.0" height="10.76" fill="rgb(248,62,63)"/>
<text x="99.7" y="445.00" font-size="8.5" fill="#161616">Marco</text>
<rect x="74.6" y="447.77" width="10.4" height="10.76" fill="rgb(255,247,247)"/>
<rect x="84.7" y="447.77" width="10.0" height="10.76" fill="rgb(248,44,45)"/>
<text x="99.7" y="455.17" font-size="8.5" fill="#161616">Il2rb</text>
<rect x="74.6" y="457.93" width="10.4" height="10.76" fill="rgb(255,247,247)"/>
<rect x="84.7" y="457.93" width="10.0" height="10.76" fill="rgb(248,30,31)"/>
<text x="99.7" y="465.33" font-size="8.5" fill="#161616">Tbx21</text>
<rect x="74.6" y="468.10" width="10.4" height="10.76" fill="rgb(155,155,244)"/>
<rect x="84.7" y="468.10" width="10.0" height="10.76" fill="rgb(248,26,27)"/>
<text x="99.7" y="475.50" font-size="8.5" fill="#161616">Gzme</text>
<rect x="74.6" y="478.26" width="10.4" height="10.76" fill="rgb(255,255,255)"/>
<rect x="84.7" y="478.26" width="10.0" height="10.76" fill="rgb(248,23,23)"/>
<text x="99.7" y="485.66" font-size="8.5" fill="#161616">Cd247</text>
<rect x="74.6" y="488.43" width="10.4" height="10.76" fill="rgb(255,247,247)"/>
<rect x="84.7" y="488.43" width="10.0" height="10.76" fill="rgb(248,19,19)"/>
<text x="99.7" y="495.83" font-size="8.5" fill="#161616">Cxcr3</text>
<rect x="74.6" y="498.59" width="10.4" height="10.76" fill="rgb(255,247,247)"/>
<rect x="84.7" y="498.59" width="10.0" height="10.76" fill="rgb(247,15,16)"/>
<text x="99.7" y="505.99" font-size="8.5" fill="#161616">Cd96</text>
<rect x="74.6" y="508.76" width="10.4" height="10.76" fill="rgb(168,168,246)"/>
<rect x="84.7" y="508.76" width="10.0" height="10.76" fill="rgb(247,12,12)"/>
<text x="99.7" y="516.16" font-size="8.5" fill="#161616">Prf1</text>
<rect x="74.6" y="518.92" width="10.4" height="10.76" fill="rgb(255,247,247)"/>
<rect x="84.7" y="518.92" width="10.0" height="10.76" fill="rgb(247,8,8)"/>
<text x="99.7" y="526.32" font-size="8.5" fill="#161616">Adora2a</text>
<rect x="74.6" y="529.09" width="10.4" height="10.76" fill="rgb(255,247,247)"/>
<rect x="84.7" y="529.09" width="10.0" height="10.76" fill="rgb(125,0,242)"/>
<text x="99.7" y="536.49" font-size="8.5" fill="#161616">Cd7</text>
<rect x="74.6" y="539.25" width="10.4" height="10.76" fill="rgb(255,255,255)"/>
<rect x="84.7" y="539.25" width="10.0" height="10.76" fill="rgb(125,0,218)"/>
<text x="99.7" y="546.65" font-size="8.5" fill="#161616">Klrg1</text>
<rect x="74.6" y="549.42" width="10.4" height="10.16" fill="rgb(255,247,247)"/>
<rect x="84.7" y="549.42" width="10.0" height="10.16" fill="rgb(245,125,22)"/>
<text x="99.7" y="556.82" font-size="8.5" fill="#161616">Gzma</text>
<text x="12.8" y="59.2" font-size="9.3" fill="#111" transform="rotate(-57 12.8 59.2)">N-803+αPD-L1</text>
<text x="25.3" y="59.2" font-size="9.3" fill="#111" transform="rotate(-57 25.3 59.2)">N-809</text>
<text x="78.5" y="59.2" font-size="9.3" fill="#111" transform="rotate(-57 78.5 59.2)">N-803+αPD-L1</text>
<text x="91.0" y="59.2" font-size="9.3" fill="#111" transform="rotate(-57 91.0 59.2)">N-809</text>
<defs><linearGradient id="cb" x1="0" y1="0" x2="0" y2="1">
<stop offset="0" stop-color="rgb(250,132,25)"/>
<stop offset="0.22" stop-color="rgb(200,75,125)"/>
<stop offset="0.46" stop-color="rgb(105,0,240)"/>
<stop offset="0.58" stop-color="rgb(205,0,120)"/>
<stop offset="0.69" stop-color="rgb(255,0,0)"/>
<stop offset="0.887" stop-color="rgb(255,255,255)"/>
<stop offset="1" stop-color="rgb(0,0,225)"/>
</linearGradient></defs>
<rect x="152.3" y="40.2" width="8.6" height="145.8" fill="url(#cb)" stroke="rgba(60,40,40,0.55)" stroke-width="0.7"/>
<text x="164.5" y="43.3" font-size="10" fill="#222">60</text>
<text x="164.5" y="110.1" font-size="10" fill="#222">30</text>
<text x="164.5" y="142.1" font-size="10" fill="#222">15</text>
<text x="164.5" y="173.6" font-size="10" fill="#222">1</text>
<text x="164.5" y="188.6" font-size="10" fill="#222">-6</text>
<text x="0" y="0" font-size="9.6" fill="#222" text-anchor="middle" transform="translate(146.8 111.9) rotate(-90)">Fold Change vs. PBS</text>
<text x="-0.3" y="16.0" font-size="22" font-weight="bold" fill="#000">A</text>
<text x="168.2" y="15.8" font-size="22" font-weight="bold" fill="#000">B</text>
<text x="281.2" y="15.8" font-size="22" font-weight="bold" fill="#000">C</text>
<text x="400.2" y="15.8" font-size="22" font-weight="bold" fill="#000">D</text>
<text x="520.7" y="15.8" font-size="22" font-weight="bold" fill="#000">E</text>
<text x="169.7" y="232.8" font-size="22" font-weight="bold" fill="#000">F</text>
<text x="281.5" y="232.8" font-size="22" font-weight="bold" fill="#000">G</text>
<text x="403.2" y="232.8" font-size="22" font-weight="bold" fill="#000">H</text>
<text x="525.8" y="233.2" font-size="22" font-weight="bold" fill="#000">I</text>
<text x="48.5" y="577.5" font-size="19" font-weight="bold" fill="#000">J<tspan dx="2.2">.</tspan></text>
<text x="163.2" y="577.8" font-size="22" font-weight="bold" fill="#000">K</text>
<text x="281.7" y="577.8" font-size="22" font-weight="bold" fill="#000">L</text>
<text x="403.2" y="577.8" font-size="22" font-weight="bold" fill="#000">M</text>
<text x="520.2" y="577.8" font-size="22" font-weight="bold" fill="#000">N</text>
<text x="239.5" y="25.5" font-size="10.8" font-weight="bold" text-anchor="middle" fill="#111">Lymphoid</text>
<text x="239.5" y="38.8" font-size="10.8" font-weight="bold" text-anchor="middle" fill="#111">Compartment</text>
<text x="358.0" y="25.5" font-size="10.8" font-weight="bold" text-anchor="middle" fill="#111">Cytotoxicity</text>
<text x="476.0" y="25.5" font-size="10.8" font-weight="bold" text-anchor="middle" fill="#111">Costimulation</text>
<text x="590.5" y="25.5" font-size="10.8" font-weight="bold" text-anchor="middle" fill="#111">Myeloid</text>
<text x="590.5" y="38.8" font-size="10.8" font-weight="bold" text-anchor="middle" fill="#111">Compartment</text>
<text x="235.0" y="239.5" font-size="10.8" font-weight="bold" text-anchor="middle" fill="#111">NK Cells</text>
<text x="353.0" y="239.5" font-size="10.8" font-weight="bold" text-anchor="middle" fill="#111">CD8<tspan font-size="7" dy="-3.5">+</tspan><tspan dy="3.5"> T Cells</tspan></text>
<text x="477.0" y="239.5" font-size="10.8" font-weight="bold" text-anchor="middle" fill="#111">T<tspan font-size="7.5" dy="2.5">reg</tspan></text>
<text x="587.0" y="239.5" font-size="10.8" font-weight="bold" text-anchor="middle" fill="#111">CD8:T<tspan font-size="7.5" dy="2.5">reg</tspan><tspan dy="-2.5"> Ratio</tspan></text>
<text x="112.5" y="582.0" font-size="10.8" font-weight="bold" text-anchor="middle" fill="#111">M-MDSC</text>
<text x="238.5" y="581.8" font-size="10.8" font-weight="bold" text-anchor="middle" fill="#111">Macrophages</text>
<text x="357.5" y="571.8" font-size="10.8" font-weight="bold" text-anchor="middle" fill="#111">M1-like</text>
<text x="357.5" y="585.0" font-size="10.8" font-weight="bold" text-anchor="middle" fill="#111">Macrophages</text>
<text x="476.5" y="571.8" font-size="10.8" font-weight="bold" text-anchor="middle" fill="#111">M2-like</text>
<text x="476.5" y="585.0" font-size="10.8" font-weight="bold" text-anchor="middle" fill="#111">Macrophages</text>
<text x="593.0" y="582.5" font-size="10.8" font-weight="bold" text-anchor="middle" fill="#111">M1:M2 Ratio</text>
<rect x="143.1" y="242.5" width="24.7" height="121.2" fill="none" stroke="#111" stroke-width="1.3"/>
<text x="0" y="0" font-size="10.5" font-weight="bold" text-anchor="middle" fill="#111" transform="translate(159.2 303.1) rotate(-90)">PRIMARY TUMOR</text>
<rect x="143.1" y="374.6" width="24.7" height="119.9" fill="none" stroke="#111" stroke-width="1.3"/>
<text x="0" y="0" font-size="10.5" font-weight="bold" text-anchor="middle" fill="#111" transform="translate(159.2 434.6) rotate(-90)">DRAINING LN</text>
<rect x="21.7" y="588.0" width="24.6" height="121.3" fill="none" stroke="#111" stroke-width="1.3"/>
<text x="0" y="0" font-size="10.5" font-weight="bold" text-anchor="middle" fill="#111" transform="translate(37.8 648.6) rotate(-90)">PRIMARY TUMOR</text>
<rect x="21.7" y="720.5" width="24.6" height="119.7" fill="none" stroke="#111" stroke-width="1.3"/>
<text x="0" y="0" font-size="10.5" font-weight="bold" text-anchor="middle" fill="#111" transform="translate(37.8 780.4) rotate(-90)">DRAINING LN</text>
<line x1="208.0" y1="50.4" x2="208.0" y2="156.4" stroke="#111" stroke-width="1.9"/>
<line x1="207.1" y1="155.5" x2="287.0" y2="155.5" stroke="#111" stroke-width="1.9"/>
<line x1="203.8" y1="51.0" x2="208.0" y2="51.0" stroke="#111" stroke-width="1.5"/>
<text x="204.0" y="54.1" font-size="8.6" font-weight="bold" text-anchor="end" fill="#151515">10</text>
<line x1="203.8" y1="77.1" x2="208.0" y2="77.1" stroke="#111" stroke-width="1.5"/>
<text x="204.0" y="80.2" font-size="8.6" font-weight="bold" text-anchor="end" fill="#151515">5</text>
<line x1="203.8" y1="103.2" x2="208.0" y2="103.2" stroke="#111" stroke-width="1.5"/>
<text x="204.0" y="106.3" font-size="8.6" font-weight="bold" text-anchor="end" fill="#151515">0</text>
<line x1="203.8" y1="129.4" x2="208.0" y2="129.4" stroke="#111" stroke-width="1.5"/>
<text x="204.0" y="132.5" font-size="8.6" font-weight="bold" text-anchor="end" fill="#151515">-5</text>
<line x1="203.8" y1="155.5" x2="208.0" y2="155.5" stroke="#111" stroke-width="1.5"/>
<text x="204.0" y="158.6" font-size="8.6" font-weight="bold" text-anchor="end" fill="#151515">-10</text>
<line x1="223.4" y1="155.5" x2="223.4" y2="159.5" stroke="#111" stroke-width="1.5"/>
<line x1="246.4" y1="155.5" x2="246.4" y2="159.5" stroke="#111" stroke-width="1.5"/>
<line x1="269.8" y1="155.5" x2="269.8" y2="159.5" stroke="#111" stroke-width="1.5"/>
<line x1="223.4" y1="113.2" x2="223.4" y2="128.6" stroke="rgb(155,155,155)" stroke-width="1.4"/>
<line x1="219.5" y1="113.2" x2="227.3" y2="113.2" stroke="rgb(155,155,155)" stroke-width="1.4"/>
<line x1="219.5" y1="128.6" x2="227.3" y2="128.6" stroke="rgb(155,155,155)" stroke-width="1.4"/>
<line x1="216.1" y1="121.2" x2="230.7" y2="121.2" stroke="rgb(155,155,155)" stroke-width="1.4"/>
<circle cx="223.4" cy="112.9" r="2.6" fill="rgb(155,155,155)"/>
<circle cx="219.4" cy="118.4" r="2.6" fill="rgb(155,155,155)"/>
<circle cx="227.4" cy="121.2" r="2.6" fill="rgb(155,155,155)"/>
<circle cx="223.4" cy="130.9" r="2.6" fill="rgb(155,155,155)"/>
<line x1="246.4" y1="96.8" x2="246.4" y2="146.6" stroke="rgb(22,62,232)" stroke-width="1.4"/>
<line x1="242.5" y1="96.8" x2="250.3" y2="96.8" stroke="rgb(22,62,232)" stroke-width="1.4"/>
<line x1="242.5" y1="146.6" x2="250.3" y2="146.6" stroke="rgb(22,62,232)" stroke-width="1.4"/>
<line x1="239.1" y1="121.2" x2="253.7" y2="121.2" stroke="rgb(22,62,232)" stroke-width="1.4"/>
<rect x="243.8" y="95.9" width="5.2" height="5.2" fill="rgb(22,62,232)"/>
<rect x="243.8" y="113.6" width="5.2" height="5.2" fill="rgb(22,62,232)"/>
<rect x="243.8" y="144.8" width="5.2" height="5.2" fill="rgb(22,62,232)"/>
<line x1="269.8" y1="55.2" x2="269.8" y2="89.1" stroke="rgb(222,50,40)" stroke-width="1.4"/>
<line x1="265.9" y1="55.2" x2="273.7" y2="55.2" stroke="rgb(222,50,40)" stroke-width="1.4"/>
<line x1="265.9" y1="89.1" x2="273.7" y2="89.1" stroke="rgb(222,50,40)" stroke-width="1.4"/>
<line x1="262.5" y1="72.4" x2="277.1" y2="72.4" stroke="rgb(222,50,40)" stroke-width="1.4"/>
<polygon points="265.8,52.1 262.5,58.0 269.1,58.0" fill="rgb(222,50,40)"/>
<polygon points="273.8,58.1 270.5,64.0 277.1,64.0" fill="rgb(222,50,40)"/>
<polygon points="265.8,84.2 262.5,90.1 269.1,90.1" fill="rgb(222,50,40)"/>
<polygon points="273.8,84.2 270.5,90.1 277.1,90.1" fill="rgb(222,50,40)"/>
<text class="yl" x="0" y="0" font-size="8.24" font-weight="bold" text-anchor="middle" fill="#151515" transform="translate(188.0 98.2) rotate(-90)">Pathway Score</text>
<text x="224.0" y="168.5" font-size="7.5" font-weight="bold" text-anchor="middle" fill="#151515" letter-spacing="-0.12">PBS</text>
<text x="247.0" y="168.5" font-size="7.5" font-weight="bold" text-anchor="middle" fill="#151515" letter-spacing="-0.12">N-803+</text>
<text x="270.4" y="168.5" font-size="7.5" font-weight="bold" text-anchor="middle" fill="#151515" letter-spacing="-0.12">N-809</text>
<text x="247.0" y="176.3" font-size="7.5" font-weight="bold" text-anchor="middle" fill="#151515">αPD-L1</text>
<line x1="224.5" y1="45.5" x2="269.8" y2="45.5" stroke="#111" stroke-width="1.5"/>
<polygon points="230.95,48.45 231.63,50.27 233.57,50.35 232.04,51.56 232.57,53.42 230.95,52.35 229.33,53.42 229.86,51.56 228.33,50.35 230.27,50.27" fill="#151515"/>
<polygon points="235.85,48.45 236.53,50.27 238.47,50.35 236.94,51.56 237.47,53.42 235.85,52.35 234.23,53.42 234.76,51.56 233.23,50.35 235.17,50.27" fill="#151515"/>
<line x1="246.4" y1="49.0" x2="269.8" y2="49.0" stroke="#111" stroke-width="1.5"/>
<polygon points="252.70,53.15 253.38,54.97 255.32,55.05 253.79,56.26 254.32,58.12 252.70,57.05 251.08,58.12 251.61,56.26 250.08,55.05 252.02,54.97" fill="#151515"/>
<line x1="327.0" y1="50.4" x2="327.0" y2="156.4" stroke="#111" stroke-width="1.9"/>
<line x1="326.1" y1="155.5" x2="406.0" y2="155.5" stroke="#111" stroke-width="1.9"/>
<line x1="322.8" y1="51.0" x2="327.0" y2="51.0" stroke="#111" stroke-width="1.5"/>
<text x="323.0" y="54.1" font-size="8.6" font-weight="bold" text-anchor="end" fill="#151515">10</text>
<line x1="322.8" y1="77.1" x2="327.0" y2="77.1" stroke="#111" stroke-width="1.5"/>
<text x="323.0" y="80.2" font-size="8.6" font-weight="bold" text-anchor="end" fill="#151515">5</text>
<line x1="322.8" y1="103.2" x2="327.0" y2="103.2" stroke="#111" stroke-width="1.5"/>
<text x="323.0" y="106.3" font-size="8.6" font-weight="bold" text-anchor="end" fill="#151515">0</text>
<line x1="322.8" y1="129.4" x2="327.0" y2="129.4" stroke="#111" stroke-width="1.5"/>
<text x="323.0" y="132.5" font-size="8.6" font-weight="bold" text-anchor="end" fill="#151515">-5</text>
<line x1="322.8" y1="155.5" x2="327.0" y2="155.5" stroke="#111" stroke-width="1.5"/>
<text x="323.0" y="158.6" font-size="8.6" font-weight="bold" text-anchor="end" fill="#151515">-10</text>
<line x1="342.0" y1="155.5" x2="342.0" y2="159.5" stroke="#111" stroke-width="1.5"/>
<line x1="365.5" y1="155.5" x2="365.5" y2="159.5" stroke="#111" stroke-width="1.5"/>
<line x1="389.0" y1="155.5" x2="389.0" y2="159.5" stroke="#111" stroke-width="1.5"/>
<line x1="342.0" y1="112.1" x2="342.0" y2="116.3" stroke="rgb(155,155,155)" stroke-width="1.4"/>
<line x1="338.1" y1="112.1" x2="345.9" y2="112.1" stroke="rgb(155,155,155)" stroke-width="1.4"/>
<line x1="338.1" y1="116.3" x2="345.9" y2="116.3" stroke="rgb(155,155,155)" stroke-width="1.4"/>
<line x1="334.7" y1="114.0" x2="349.3" y2="114.0" stroke="rgb(155,155,155)" stroke-width="1.4"/>
<circle cx="338.0" cy="113.4" r="2.6" fill="rgb(155,155,155)"/>
<circle cx="340.2" cy="117.3" r="2.6" fill="rgb(155,155,155)"/>
<circle cx="345.2" cy="111.7" r="2.6" fill="rgb(155,155,155)"/>
<circle cx="343.1" cy="114.5" r="2.6" fill="rgb(155,155,155)"/>
<line x1="365.5" y1="105.2" x2="365.5" y2="125.5" stroke="rgb(22,62,232)" stroke-width="1.4"/>
<line x1="361.6" y1="105.2" x2="369.4" y2="105.2" stroke="rgb(22,62,232)" stroke-width="1.4"/>
<line x1="361.6" y1="125.5" x2="369.4" y2="125.5" stroke="rgb(22,62,232)" stroke-width="1.4"/>
<line x1="358.2" y1="115.3" x2="372.8" y2="115.3" stroke="rgb(22,62,232)" stroke-width="1.4"/>
<rect x="362.9" y="102.6" width="5.2" height="5.2" fill="rgb(22,62,232)"/>
<rect x="362.9" y="111.4" width="5.2" height="5.2" fill="rgb(22,62,232)"/>
<rect x="362.9" y="122.9" width="5.2" height="5.2" fill="rgb(22,62,232)"/>
<line x1="389.0" y1="75.9" x2="389.0" y2="92.1" stroke="rgb(222,50,40)" stroke-width="1.4"/>
<line x1="385.1" y1="75.9" x2="392.9" y2="75.9" stroke="rgb(222,50,40)" stroke-width="1.4"/>
<line x1="385.1" y1="92.1" x2="392.9" y2="92.1" stroke="rgb(222,50,40)" stroke-width="1.4"/>
<line x1="381.7" y1="84.4" x2="396.3" y2="84.4" stroke="rgb(222,50,40)" stroke-width="1.4"/>
<polygon points="385.1,71.1 381.8,77.0 388.4,77.0" fill="rgb(222,50,40)"/>
<polygon points="393.4,78.4 390.1,84.3 396.7,84.3" fill="rgb(222,50,40)"/>
<polygon points="393.4,85.3 390.1,91.2 396.7,91.2" fill="rgb(222,50,40)"/>
<polygon points="385.1,90.3 381.8,96.2 388.4,96.2" fill="rgb(222,50,40)"/>
<text class="yl" x="0" y="0" font-size="8.24" font-weight="bold" text-anchor="middle" fill="#151515" transform="translate(308.0 98.2) rotate(-90)">Pathway Score</text>
<text x="342.6" y="168.5" font-size="7.5" font-weight="bold" text-anchor="middle" fill="#151515" letter-spacing="-0.12">PBS</text>
<text x="366.1" y="168.5" font-size="7.5" font-weight="bold" text-anchor="middle" fill="#151515" letter-spacing="-0.12">N-803+</text>
<text x="389.6" y="168.5" font-size="7.5" font-weight="bold" text-anchor="middle" fill="#151515" letter-spacing="-0.12">N-809</text>
<text x="366.1" y="176.3" font-size="7.5" font-weight="bold" text-anchor="middle" fill="#151515">αPD-L1</text>
<line x1="339.7" y1="62.3" x2="384.5" y2="62.3" stroke="#111" stroke-width="1.5"/>
<polygon points="357.85,54.75 358.53,56.57 360.47,56.65 358.94,57.86 359.47,59.72 357.85,58.65 356.23,59.72 356.76,57.86 355.23,56.65 357.17,56.57" fill="#151515"/>
<polygon points="362.75,54.75 363.43,56.57 365.37,56.65 363.84,57.86 364.37,59.72 362.75,58.65 361.13,59.72 361.66,57.86 360.13,56.65 362.07,56.57" fill="#151515"/>
<line x1="361.0" y1="65.8" x2="384.5" y2="65.8" stroke="#111" stroke-width="1.5"/>
<polygon points="366.35,69.05 367.03,70.87 368.97,70.95 367.44,72.16 367.97,74.02 366.35,72.95 364.73,74.02 365.26,72.16 363.73,70.95 365.67,70.87" fill="#151515"/>
<polygon points="371.25,69.05 371.93,70.87 373.87,70.95 372.34,72.16 372.87,74.02 371.25,72.95 369.63,74.02 370.16,72.16 368.63,70.95 370.57,70.87" fill="#151515"/>
<line x1="447.0" y1="50.4" x2="447.0" y2="156.4" stroke="#111" stroke-width="1.9"/>
<line x1="446.1" y1="155.5" x2="526.0" y2="155.5" stroke="#111" stroke-width="1.9"/>
<line x1="442.8" y1="51.0" x2="447.0" y2="51.0" stroke="#111" stroke-width="1.5"/>
<text x="443.0" y="54.1" font-size="8.6" font-weight="bold" text-anchor="end" fill="#151515">10</text>
<line x1="442.8" y1="77.1" x2="447.0" y2="77.1" stroke="#111" stroke-width="1.5"/>
<text x="443.0" y="80.2" font-size="8.6" font-weight="bold" text-anchor="end" fill="#151515">5</text>
<line x1="442.8" y1="103.2" x2="447.0" y2="103.2" stroke="#111" stroke-width="1.5"/>
<text x="443.0" y="106.3" font-size="8.6" font-weight="bold" text-anchor="end" fill="#151515">0</text>
<line x1="442.8" y1="129.4" x2="447.0" y2="129.4" stroke="#111" stroke-width="1.5"/>
<text x="443.0" y="132.5" font-size="8.6" font-weight="bold" text-anchor="end" fill="#151515">-5</text>
<line x1="442.8" y1="155.5" x2="447.0" y2="155.5" stroke="#111" stroke-width="1.5"/>
<text x="443.0" y="158.6" font-size="8.6" font-weight="bold" text-anchor="end" fill="#151515">-10</text>
<line x1="463.2" y1="155.5" x2="463.2" y2="159.5" stroke="#111" stroke-width="1.5"/>
<line x1="486.6" y1="155.5" x2="486.6" y2="159.5" stroke="#111" stroke-width="1.5"/>
<line x1="509.7" y1="155.5" x2="509.7" y2="159.5" stroke="#111" stroke-width="1.5"/>
<line x1="463.2" y1="108.5" x2="463.2" y2="125.5" stroke="rgb(155,155,155)" stroke-width="1.4"/>
<line x1="459.3" y1="108.5" x2="467.1" y2="108.5" stroke="rgb(155,155,155)" stroke-width="1.4"/>
<line x1="459.3" y1="125.5" x2="467.1" y2="125.5" stroke="rgb(155,155,155)" stroke-width="1.4"/>
<line x1="455.9" y1="117.0" x2="470.5" y2="117.0" stroke="rgb(155,155,155)" stroke-width="1.4"/>
<circle cx="463.2" cy="106.1" r="2.6" fill="rgb(155,155,155)"/>
<circle cx="459.0" cy="117.0" r="2.6" fill="rgb(155,155,155)"/>
<circle cx="467.5" cy="117.0" r="2.6" fill="rgb(155,155,155)"/>
<circle cx="463.2" cy="127.3" r="2.6" fill="rgb(155,155,155)"/>
<line x1="486.6" y1="93.9" x2="486.6" y2="143.0" stroke="rgb(22,62,232)" stroke-width="1.4"/>
<line x1="482.7" y1="93.9" x2="490.5" y2="93.9" stroke="rgb(22,62,232)" stroke-width="1.4"/>
<line x1="482.7" y1="143.0" x2="490.5" y2="143.0" stroke="rgb(22,62,232)" stroke-width="1.4"/>
<line x1="479.3" y1="117.4" x2="493.9" y2="117.4" stroke="rgb(22,62,232)" stroke-width="1.4"/>
<rect x="484.0" y="93.9" width="5.2" height="5.2" fill="rgb(22,62,232)"/>
<rect x="484.0" y="109.7" width="5.2" height="5.2" fill="rgb(22,62,232)"/>
<rect x="484.0" y="140.7" width="5.2" height="5.2" fill="rgb(22,62,232)"/>
<line x1="509.7" y1="62.6" x2="509.7" y2="96.0" stroke="rgb(222,50,40)" stroke-width="1.4"/>
<line x1="505.8" y1="62.6" x2="513.6" y2="62.6" stroke="rgb(222,50,40)" stroke-width="1.4"/>
<line x1="505.8" y1="96.0" x2="513.6" y2="96.0" stroke="rgb(222,50,40)" stroke-width="1.4"/>
<line x1="502.4" y1="79.2" x2="517.0" y2="79.2" stroke="rgb(222,50,40)" stroke-width="1.4"/>
<polygon points="506.0,60.1 502.7,66.0 509.3,66.0" fill="rgb(222,50,40)"/>
<polygon points="514.4,64.5 511.1,70.4 517.7,70.4" fill="rgb(222,50,40)"/>
<polygon points="506.0,91.1 502.7,97.0 509.3,97.0" fill="rgb(222,50,40)"/>
<polygon points="514.4,91.1 511.1,97.0 517.7,97.0" fill="rgb(222,50,40)"/>
<text class="yl" x="0" y="0" font-size="8.24" font-weight="bold" text-anchor="middle" fill="#151515" transform="translate(428.3 97.9) rotate(-90)">Pathway Score</text>
<text x="463.8" y="168.5" font-size="7.5" font-weight="bold" text-anchor="middle" fill="#151515" letter-spacing="-0.12">PBS</text>
<text x="487.2" y="168.5" font-size="7.5" font-weight="bold" text-anchor="middle" fill="#151515" letter-spacing="-0.12">N-803+</text>
<text x="510.3" y="168.5" font-size="7.5" font-weight="bold" text-anchor="middle" fill="#151515" letter-spacing="-0.12">N-809</text>
<text x="487.2" y="176.3" font-size="7.5" font-weight="bold" text-anchor="middle" fill="#151515">αPD-L1</text>
<line x1="459.6" y1="51.2" x2="503.5" y2="51.2" stroke="#111" stroke-width="1.5"/>
<polygon points="479.70,44.15 480.38,45.97 482.32,46.05 480.79,47.26 481.32,49.12 479.70,48.05 478.08,49.12 478.61,47.26 477.08,46.05 479.02,45.97" fill="#151515"/>
<line x1="479.7" y1="54.6" x2="503.5" y2="54.6" stroke="#111" stroke-width="1.5"/>
<polygon points="487.20,58.15 487.88,59.97 489.82,60.05 488.29,61.26 488.82,63.12 487.20,62.05 485.58,63.12 486.11,61.26 484.58,60.05 486.52,59.97" fill="#151515"/>
<line x1="562.2" y1="50.4" x2="562.2" y2="156.4" stroke="#111" stroke-width="1.9"/>
<line x1="561.3" y1="155.5" x2="641.2" y2="155.5" stroke="#111" stroke-width="1.9"/>
<line x1="558.0" y1="51.0" x2="562.2" y2="51.0" stroke="#111" stroke-width="1.5"/>
<text x="558.2" y="54.1" font-size="8.6" font-weight="bold" text-anchor="end" fill="#151515">10</text>
<line x1="558.0" y1="77.1" x2="562.2" y2="77.1" stroke="#111" stroke-width="1.5"/>
<text x="558.2" y="80.2" font-size="8.6" font-weight="bold" text-anchor="end" fill="#151515">5</text>
<line x1="558.0" y1="103.2" x2="562.2" y2="103.2" stroke="#111" stroke-width="1.5"/>
<text x="558.2" y="106.3" font-size="8.6" font-weight="bold" text-anchor="end" fill="#151515">0</text>
<line x1="558.0" y1="129.4" x2="562.2" y2="129.4" stroke="#111" stroke-width="1.5"/>
<text x="558.2" y="132.5" font-size="8.6" font-weight="bold" text-anchor="end" fill="#151515">-5</text>
<line x1="558.0" y1="155.5" x2="562.2" y2="155.5" stroke="#111" stroke-width="1.5"/>
<text x="558.2" y="158.6" font-size="8.6" font-weight="bold" text-anchor="end" fill="#151515">-10</text>
<line x1="577.2" y1="155.5" x2="577.2" y2="159.5" stroke="#111" stroke-width="1.5"/>
<line x1="600.6" y1="155.5" x2="600.6" y2="159.5" stroke="#111" stroke-width="1.5"/>
<line x1="624.0" y1="155.5" x2="624.0" y2="159.5" stroke="#111" stroke-width="1.5"/>
<line x1="577.2" y1="102.4" x2="577.2" y2="122.7" stroke="rgb(155,155,155)" stroke-width="1.4"/>
<line x1="573.3" y1="102.4" x2="581.1" y2="102.4" stroke="rgb(155,155,155)" stroke-width="1.4"/>
<line x1="573.3" y1="122.7" x2="581.1" y2="122.7" stroke="rgb(155,155,155)" stroke-width="1.4"/>
<line x1="569.9" y1="112.3" x2="584.5" y2="112.3" stroke="rgb(155,155,155)" stroke-width="1.4"/>
<circle cx="574.4" cy="101.7" r="2.6" fill="rgb(155,155,155)"/>
<circle cx="581.9" cy="106.1" r="2.6" fill="rgb(155,155,155)"/>
<circle cx="581.9" cy="117.0" r="2.6" fill="rgb(155,155,155)"/>
<circle cx="574.4" cy="125.5" r="2.6" fill="rgb(155,155,155)"/>
<line x1="600.6" y1="97.3" x2="600.6" y2="138.6" stroke="rgb(22,62,232)" stroke-width="1.4"/>
<line x1="596.7" y1="97.3" x2="604.5" y2="97.3" stroke="rgb(22,62,232)" stroke-width="1.4"/>
<line x1="596.7" y1="138.6" x2="604.5" y2="138.6" stroke="rgb(22,62,232)" stroke-width="1.4"/>
<line x1="593.3" y1="117.4" x2="607.9" y2="117.4" stroke="rgb(22,62,232)" stroke-width="1.4"/>
<rect x="598.0" y="96.1" width="5.2" height="5.2" fill="rgb(22,62,232)"/>
<rect x="598.0" y="113.0" width="5.2" height="5.2" fill="rgb(22,62,232)"/>
<rect x="598.0" y="135.5" width="5.2" height="5.2" fill="rgb(22,62,232)"/>
<line x1="624.0" y1="67.2" x2="624.0" y2="99.2" stroke="rgb(222,50,40)" stroke-width="1.4"/>
<line x1="620.1" y1="67.2" x2="627.9" y2="67.2" stroke="rgb(222,50,40)" stroke-width="1.4"/>
<line x1="620.1" y1="99.2" x2="627.9" y2="99.2" stroke="rgb(222,50,40)" stroke-width="1.4"/>
<line x1="616.7" y1="83.2" x2="631.3" y2="83.2" stroke="rgb(222,50,40)" stroke-width="1.4"/>
<polygon points="620.3,63.8 617.0,69.7 623.6,69.7" fill="rgb(222,50,40)"/>
<polygon points="627.8,70.2 624.5,76.1 631.1,76.1" fill="rgb(222,50,40)"/>
<polygon points="620.3,96.3 617.0,102.2 623.6,102.2" fill="rgb(222,50,40)"/>
<polygon points="627.8,92.0 624.5,97.9 631.1,97.9" fill="rgb(222,50,40)"/>
<text class="yl" x="0" y="0" font-size="8.24" font-weight="bold" text-anchor="middle" fill="#151515" transform="translate(541.8 95.8) rotate(-90)">Pathway Score</text>
<text x="577.8" y="168.5" font-size="7.5" font-weight="bold" text-anchor="middle" fill="#151515" letter-spacing="-0.12">PBS</text>
<text x="601.2" y="168.5" font-size="7.5" font-weight="bold" text-anchor="middle" fill="#151515" letter-spacing="-0.12">N-803+</text>
<text x="624.6" y="168.5" font-size="7.5" font-weight="bold" text-anchor="middle" fill="#151515" letter-spacing="-0.12">N-809</text>
<text x="601.2" y="176.3" font-size="7.5" font-weight="bold" text-anchor="middle" fill="#151515">αPD-L1</text>
<line x1="580.0" y1="59.7" x2="625.4" y2="59.7" stroke="#111" stroke-width="1.5"/>
<polygon points="600.60,52.15 601.28,53.97 603.22,54.05 601.69,55.26 602.22,57.12 600.60,56.05 598.98,57.12 599.51,55.26 597.98,54.05 599.92,53.97" fill="#151515"/>
<line x1="222.8" y1="327.8" x2="222.8" y2="312.4" stroke="#1a1a1a" stroke-width="1.6"/>
<line x1="218.3" y1="312.4" x2="227.3" y2="312.4" stroke="#1a1a1a" stroke-width="1.6"/>
<rect x="215.5" y="327.8" width="14.5" height="28.6" fill="rgb(150,150,150)" stroke="#111" stroke-width="1.7"/>
<line x1="246.2" y1="327.8" x2="246.2" y2="308.9" stroke="#1a1a1a" stroke-width="1.6"/>
<line x1="241.7" y1="308.9" x2="250.7" y2="308.9" stroke="#1a1a1a" stroke-width="1.6"/>
<rect x="238.8" y="327.8" width="14.7" height="28.6" fill="rgb(22,52,232)" stroke="#0a0a70" stroke-width="1.7"/>
<line x1="269.6" y1="305.4" x2="269.6" y2="269.8" stroke="#1a1a1a" stroke-width="1.6"/>
<line x1="265.1" y1="269.8" x2="274.1" y2="269.8" stroke="#1a1a1a" stroke-width="1.6"/>
<rect x="262.5" y="305.4" width="14.2" height="51.0" fill="rgb(255,40,0)" stroke="#111" stroke-width="1.7"/>
<line x1="206.4" y1="251.1" x2="206.4" y2="357.3" stroke="#111" stroke-width="1.9"/>
<line x1="205.5" y1="356.4" x2="284.5" y2="356.4" stroke="#111" stroke-width="1.9"/>
<line x1="202.2" y1="251.7" x2="206.4" y2="251.7" stroke="#111" stroke-width="1.5"/>
<text x="202.4" y="254.5" font-size="7.8" font-weight="bold" text-anchor="end" fill="#151515">1.5</text>
<line x1="202.2" y1="286.6" x2="206.4" y2="286.6" stroke="#111" stroke-width="1.5"/>
<text x="202.4" y="289.4" font-size="7.8" font-weight="bold" text-anchor="end" fill="#151515">1.0</text>
<line x1="202.2" y1="321.5" x2="206.4" y2="321.5" stroke="#111" stroke-width="1.5"/>
<text x="202.4" y="324.3" font-size="7.8" font-weight="bold" text-anchor="end" fill="#151515">0.5</text>
<line x1="202.2" y1="356.4" x2="206.4" y2="356.4" stroke="#111" stroke-width="1.5"/>
<text x="202.4" y="359.2" font-size="7.8" font-weight="bold" text-anchor="end" fill="#151515">0.0</text>
<line x1="222.8" y1="356.4" x2="222.8" y2="360.4" stroke="#111" stroke-width="1.5"/>
<line x1="246.2" y1="356.4" x2="246.2" y2="360.4" stroke="#111" stroke-width="1.5"/>
<line x1="269.6" y1="356.4" x2="269.6" y2="360.4" stroke="#111" stroke-width="1.5"/>
<text class="yl" x="0" y="0" font-size="8.36" font-weight="bold" text-anchor="middle" fill="#151515" transform="translate(183.5 306.4) rotate(-90)"># NK Cells (x10<tspan font-size="5.4" dy="-3">3</tspan><tspan dy="3">)/mg tumor</tspan></text>
<line x1="224.0" y1="265.0" x2="269.7" y2="265.0" stroke="#111" stroke-width="1.5"/>
<polygon points="246.50,257.55 247.18,259.37 249.12,259.45 247.59,260.66 248.12,262.52 246.50,261.45 244.88,262.52 245.41,260.66 243.88,259.45 245.82,259.37" fill="#151515"/>
<line x1="222.5" y1="477.7" x2="222.5" y2="473.9" stroke="#1a1a1a" stroke-width="1.6"/>
<line x1="218.0" y1="473.9" x2="227.0" y2="473.9" stroke="#1a1a1a" stroke-width="1.6"/>
<rect x="215.8" y="477.7" width="13.3" height="7.6" fill="rgb(150,150,150)" stroke="#111" stroke-width="1.7"/>
<line x1="246.1" y1="467.2" x2="246.1" y2="457.1" stroke="#1a1a1a" stroke-width="1.6"/>
<line x1="241.6" y1="457.1" x2="250.6" y2="457.1" stroke="#1a1a1a" stroke-width="1.6"/>
<rect x="239.2" y="467.2" width="13.6" height="18.1" fill="rgb(22,52,232)" stroke="#0a0a70" stroke-width="1.7"/>
<line x1="269.4" y1="427.3" x2="269.4" y2="406.7" stroke="#1a1a1a" stroke-width="1.6"/>
<line x1="264.9" y1="406.7" x2="273.9" y2="406.7" stroke="#1a1a1a" stroke-width="1.6"/>
<rect x="262.9" y="427.3" width="13.2" height="58.0" fill="rgb(255,40,0)" stroke="#111" stroke-width="1.7"/>
<line x1="206.4" y1="379.6" x2="206.4" y2="486.2" stroke="#111" stroke-width="1.9"/>
<line x1="205.5" y1="485.3" x2="284.5" y2="485.3" stroke="#111" stroke-width="1.9"/>
<line x1="202.2" y1="380.2" x2="206.4" y2="380.2" stroke="#111" stroke-width="1.5"/>
<text x="202.4" y="383.0" font-size="7.8" font-weight="bold" text-anchor="end" fill="#151515">2.5</text>
<line x1="202.2" y1="401.2" x2="206.4" y2="401.2" stroke="#111" stroke-width="1.5"/>
<text x="202.4" y="404.0" font-size="7.8" font-weight="bold" text-anchor="end" fill="#151515">2.0</text>
<line x1="202.2" y1="422.2" x2="206.4" y2="422.2" stroke="#111" stroke-width="1.5"/>
<text x="202.4" y="425.0" font-size="7.8" font-weight="bold" text-anchor="end" fill="#151515">1.5</text>
<line x1="202.2" y1="443.3" x2="206.4" y2="443.3" stroke="#111" stroke-width="1.5"/>
<text x="202.4" y="446.1" font-size="7.8" font-weight="bold" text-anchor="end" fill="#151515">1.0</text>
<line x1="202.2" y1="464.3" x2="206.4" y2="464.3" stroke="#111" stroke-width="1.5"/>
<text x="202.4" y="467.1" font-size="7.8" font-weight="bold" text-anchor="end" fill="#151515">0.5</text>
<line x1="202.2" y1="485.3" x2="206.4" y2="485.3" stroke="#111" stroke-width="1.5"/>
<text x="202.4" y="488.1" font-size="7.8" font-weight="bold" text-anchor="end" fill="#151515">0.0</text>
<line x1="222.5" y1="485.3" x2="222.5" y2="489.3" stroke="#111" stroke-width="1.5"/>
<line x1="246.1" y1="485.3" x2="246.1" y2="489.3" stroke="#111" stroke-width="1.5"/>
<line x1="269.4" y1="485.3" x2="269.4" y2="489.3" stroke="#111" stroke-width="1.5"/>
<text class="yl" x="0" y="0" font-size="8.38" font-weight="bold" text-anchor="middle" fill="#151515" transform="translate(183.5 431.9) rotate(-90)"># NK Cells (x10<tspan font-size="5.4" dy="-3">5</tspan><tspan dy="3">)</tspan></text>
<line x1="224.0" y1="390.0" x2="269.0" y2="390.0" stroke="#111" stroke-width="1.5"/>
<polygon points="241.60,382.05 242.28,383.87 244.22,383.95 242.69,385.16 243.22,387.02 241.60,385.95 239.98,387.02 240.51,385.16 238.98,383.95 240.92,383.87" fill="#151515"/>
<polygon points="246.50,382.05 247.18,383.87 249.12,383.95 247.59,385.16 248.12,387.02 246.50,385.95 244.88,387.02 245.41,385.16 243.88,383.95 245.82,383.87" fill="#151515"/>
<polygon points="251.40,382.05 252.08,383.87 254.02,383.95 252.49,385.16 253.02,387.02 251.40,385.95 249.78,387.02 250.31,385.16 248.78,383.95 250.72,383.87" fill="#151515"/>
<line x1="245.0" y1="402.0" x2="269.0" y2="402.0" stroke="#111" stroke-width="1.5"/>
<polygon points="253.20,395.75 253.88,397.57 255.82,397.65 254.29,398.86 254.82,400.72 253.20,399.65 251.58,400.72 252.11,398.86 250.58,397.65 252.52,397.57" fill="#151515"/>
<polygon points="258.10,395.75 258.78,397.57 260.72,397.65 259.19,398.86 259.72,400.72 258.10,399.65 256.48,400.72 257.01,398.86 255.48,397.65 257.42,397.57" fill="#151515"/>
<polygon points="263.00,395.75 263.68,397.57 265.62,397.65 264.09,398.86 264.62,400.72 263.00,399.65 261.38,400.72 261.91,398.86 260.38,397.65 262.32,397.57" fill="#151515"/>
<text x="223.1" y="496.9" font-size="7.3" font-weight="bold" text-anchor="middle" fill="#151515" letter-spacing="-0.12">PBS</text>
<text x="246.7" y="496.9" font-size="7.3" font-weight="bold" text-anchor="middle" fill="#151515" letter-spacing="-0.12">N-803+</text>
<text x="270.1" y="496.9" font-size="7.3" font-weight="bold" text-anchor="middle" fill="#151515" letter-spacing="-0.12">N-809</text>
<text x="246.7" y="505.2" font-size="7.3" font-weight="bold" text-anchor="middle" fill="#151515">αPD-L1</text>
<line x1="342.6" y1="335.3" x2="342.6" y2="321.3" stroke="#1a1a1a" stroke-width="1.6"/>
<line x1="338.1" y1="321.3" x2="347.1" y2="321.3" stroke="#1a1a1a" stroke-width="1.6"/>
<rect x="335.6" y="335.3" width="14.2" height="20.9" fill="rgb(150,150,150)" stroke="#111" stroke-width="1.7"/>
<line x1="365.9" y1="333.6" x2="365.9" y2="310.8" stroke="#1a1a1a" stroke-width="1.6"/>
<line x1="361.4" y1="310.8" x2="370.4" y2="310.8" stroke="#1a1a1a" stroke-width="1.6"/>
<rect x="358.6" y="333.6" width="14.6" height="22.6" fill="rgb(22,52,232)" stroke="#0a0a70" stroke-width="1.7"/>
<line x1="389.1" y1="303.5" x2="389.1" y2="265.7" stroke="#1a1a1a" stroke-width="1.6"/>
<line x1="384.6" y1="265.7" x2="393.6" y2="265.7" stroke="#1a1a1a" stroke-width="1.6"/>
<rect x="381.9" y="303.5" width="14.5" height="52.7" fill="rgb(255,40,0)" stroke="#111" stroke-width="1.7"/>
<line x1="326.4" y1="251.1" x2="326.4" y2="357.1" stroke="#111" stroke-width="1.9"/>
<line x1="325.5" y1="356.2" x2="404.5" y2="356.2" stroke="#111" stroke-width="1.9"/>
<line x1="322.2" y1="251.7" x2="326.4" y2="251.7" stroke="#111" stroke-width="1.5"/>
<text x="322.4" y="254.5" font-size="7.8" font-weight="bold" text-anchor="end" fill="#151515">5.0</text>
<line x1="322.2" y1="272.6" x2="326.4" y2="272.6" stroke="#111" stroke-width="1.5"/>
<text x="322.4" y="275.4" font-size="7.8" font-weight="bold" text-anchor="end" fill="#151515">4.0</text>
<line x1="322.2" y1="293.5" x2="326.4" y2="293.5" stroke="#111" stroke-width="1.5"/>
<text x="322.4" y="296.3" font-size="7.8" font-weight="bold" text-anchor="end" fill="#151515">3.0</text>
<line x1="322.2" y1="314.4" x2="326.4" y2="314.4" stroke="#111" stroke-width="1.5"/>
<text x="322.4" y="317.2" font-size="7.8" font-weight="bold" text-anchor="end" fill="#151515">2.0</text>
<line x1="322.2" y1="335.3" x2="326.4" y2="335.3" stroke="#111" stroke-width="1.5"/>
<text x="322.4" y="338.1" font-size="7.8" font-weight="bold" text-anchor="end" fill="#151515">1.0</text>
<line x1="322.2" y1="356.2" x2="326.4" y2="356.2" stroke="#111" stroke-width="1.5"/>
<text x="322.4" y="359.0" font-size="7.8" font-weight="bold" text-anchor="end" fill="#151515">0</text>
<line x1="342.6" y1="356.2" x2="342.6" y2="360.2" stroke="#111" stroke-width="1.5"/>
<line x1="365.9" y1="356.2" x2="365.9" y2="360.2" stroke="#111" stroke-width="1.5"/>
<line x1="389.1" y1="356.2" x2="389.1" y2="360.2" stroke="#111" stroke-width="1.5"/>
<text class="yl" x="0" y="0" font-size="8.16" font-weight="bold" text-anchor="middle" fill="#151515" transform="translate(303.5 304.5) rotate(-90)"># CD8<tspan font-size="5.4" dy="-3">+</tspan><tspan dy="3"> T Cells (x10</tspan><tspan font-size="5.4" dy="-3">3</tspan><tspan dy="3">)/mg tumor</tspan></text>
<line x1="339.4" y1="259.5" x2="384.7" y2="259.5" stroke="#111" stroke-width="1.5"/>
<polygon points="357.55,251.45 358.23,253.27 360.17,253.35 358.64,254.56 359.17,256.42 357.55,255.35 355.93,256.42 356.46,254.56 354.93,253.35 356.87,253.27" fill="#151515"/>
<polygon points="362.45,251.45 363.13,253.27 365.07,253.35 363.54,254.56 364.07,256.42 362.45,255.35 360.83,256.42 361.36,254.56 359.83,253.35 361.77,253.27" fill="#151515"/>
<line x1="361.0" y1="263.0" x2="384.7" y2="263.0" stroke="#111" stroke-width="1.5"/>
<polygon points="368.30,266.45 368.98,268.27 370.92,268.35 369.39,269.56 369.92,271.42 368.30,270.35 366.68,271.42 367.21,269.56 365.68,268.35 367.62,268.27" fill="#151515"/>
<line x1="342.4" y1="468.3" x2="342.4" y2="461.7" stroke="#1a1a1a" stroke-width="1.6"/>
<line x1="337.9" y1="461.7" x2="346.9" y2="461.7" stroke="#1a1a1a" stroke-width="1.6"/>
<rect x="335.9" y="468.3" width="13.1" height="16.5" fill="rgb(150,150,150)" stroke="#111" stroke-width="1.7"/>
<line x1="365.9" y1="467.4" x2="365.9" y2="459.6" stroke="#1a1a1a" stroke-width="1.6"/>
<line x1="361.4" y1="459.6" x2="370.4" y2="459.6" stroke="#1a1a1a" stroke-width="1.6"/>
<rect x="359.2" y="467.4" width="13.2" height="17.4" fill="rgb(22,52,232)" stroke="#0a0a70" stroke-width="1.7"/>
<line x1="389.3" y1="424.0" x2="389.3" y2="405.8" stroke="#1a1a1a" stroke-width="1.6"/>
<line x1="384.8" y1="405.8" x2="393.8" y2="405.8" stroke="#1a1a1a" stroke-width="1.6"/>
<rect x="382.8" y="424.0" width="13.1" height="60.8" fill="rgb(255,40,0)" stroke="#111" stroke-width="1.7"/>
<line x1="326.4" y1="380.0" x2="326.4" y2="485.7" stroke="#111" stroke-width="1.9"/>
<line x1="325.5" y1="484.8" x2="404.5" y2="484.8" stroke="#111" stroke-width="1.9"/>
<line x1="322.2" y1="380.6" x2="326.4" y2="380.6" stroke="#111" stroke-width="1.5"/>
<text x="322.4" y="383.4" font-size="7.8" font-weight="bold" text-anchor="end" fill="#151515">6.0</text>
<line x1="322.2" y1="415.3" x2="326.4" y2="415.3" stroke="#111" stroke-width="1.5"/>
<text x="322.4" y="418.1" font-size="7.8" font-weight="bold" text-anchor="end" fill="#151515">4.0</text>
<line x1="322.2" y1="450.1" x2="326.4" y2="450.1" stroke="#111" stroke-width="1.5"/>
<text x="322.4" y="452.9" font-size="7.8" font-weight="bold" text-anchor="end" fill="#151515">2.0</text>
<line x1="322.2" y1="484.8" x2="326.4" y2="484.8" stroke="#111" stroke-width="1.5"/>
<text x="322.4" y="487.6" font-size="7.8" font-weight="bold" text-anchor="end" fill="#151515">0</text>
<line x1="342.4" y1="484.8" x2="342.4" y2="488.8" stroke="#111" stroke-width="1.5"/>
<line x1="365.9" y1="484.8" x2="365.9" y2="488.8" stroke="#111" stroke-width="1.5"/>
<line x1="389.3" y1="484.8" x2="389.3" y2="488.8" stroke="#111" stroke-width="1.5"/>
<text class="yl" x="0" y="0" font-size="8.50" font-weight="bold" text-anchor="middle" fill="#151515" transform="translate(304.0 431.9) rotate(-90)"># CD8<tspan font-size="5.4" dy="-3">+</tspan><tspan dy="3"> T Cells (x10</tspan><tspan font-size="5.4" dy="-3">6</tspan><tspan dy="3">)</tspan></text>
<line x1="340.5" y1="390.0" x2="385.8" y2="390.0" stroke="#111" stroke-width="1.5"/>
<polygon points="358.10,382.05 358.78,383.87 360.72,383.95 359.19,385.16 359.72,387.02 358.10,385.95 356.48,387.02 357.01,385.16 355.48,383.95 357.42,383.87" fill="#151515"/>
<polygon points="363.00,382.05 363.68,383.87 365.62,383.95 364.09,385.16 364.62,387.02 363.00,385.95 361.38,387.02 361.91,385.16 360.38,383.95 362.32,383.87" fill="#151515"/>
<polygon points="367.90,382.05 368.58,383.87 370.52,383.95 368.99,385.16 369.52,387.02 367.90,385.95 366.28,387.02 366.81,385.16 365.28,383.95 367.22,383.87" fill="#151515"/>
<line x1="362.3" y1="400.8" x2="385.8" y2="400.8" stroke="#111" stroke-width="1.5"/>
<polygon points="369.60,394.55 370.28,396.37 372.22,396.45 370.69,397.66 371.22,399.52 369.60,398.45 367.98,399.52 368.51,397.66 366.98,396.45 368.92,396.37" fill="#151515"/>
<polygon points="374.50,394.55 375.18,396.37 377.12,396.45 375.59,397.66 376.12,399.52 374.50,398.45 372.88,399.52 373.41,397.66 371.88,396.45 373.82,396.37" fill="#151515"/>
<polygon points="379.40,394.55 380.08,396.37 382.02,396.45 380.49,397.66 381.02,399.52 379.40,398.45 377.78,399.52 378.31,397.66 376.78,396.45 378.72,396.37" fill="#151515"/>
<text x="343.0" y="496.9" font-size="7.3" font-weight="bold" text-anchor="middle" fill="#151515" letter-spacing="-0.12">PBS</text>
<text x="366.5" y="496.9" font-size="7.3" font-weight="bold" text-anchor="middle" fill="#151515" letter-spacing="-0.12">N-803+</text>
<text x="389.9" y="496.9" font-size="7.3" font-weight="bold" text-anchor="middle" fill="#151515" letter-spacing="-0.12">N-809</text>
<text x="366.5" y="505.2" font-size="7.3" font-weight="bold" text-anchor="middle" fill="#151515">αPD-L1</text>
<line x1="463.0" y1="303.2" x2="463.0" y2="286.6" stroke="#1a1a1a" stroke-width="1.6"/>
<line x1="458.5" y1="286.6" x2="467.5" y2="286.6" stroke="#1a1a1a" stroke-width="1.6"/>
<rect x="455.6" y="303.2" width="14.9" height="53.2" fill="rgb(150,150,150)" stroke="#111" stroke-width="1.7"/>
<line x1="486.4" y1="297.9" x2="486.4" y2="270.9" stroke="#1a1a1a" stroke-width="1.6"/>
<line x1="481.9" y1="270.9" x2="490.9" y2="270.9" stroke="#1a1a1a" stroke-width="1.6"/>
<rect x="478.9" y="297.9" width="15.0" height="58.5" fill="rgb(22,52,232)" stroke="#0a0a70" stroke-width="1.7"/>
<line x1="510.5" y1="328.5" x2="510.5" y2="310.2" stroke="#1a1a1a" stroke-width="1.6"/>
<line x1="506.0" y1="310.2" x2="515.0" y2="310.2" stroke="#1a1a1a" stroke-width="1.6"/>
<rect x="503.2" y="328.5" width="14.7" height="27.9" fill="rgb(255,40,0)" stroke="#111" stroke-width="1.7"/>
<line x1="447.0" y1="251.1" x2="447.0" y2="357.3" stroke="#111" stroke-width="1.9"/>
<line x1="446.1" y1="356.4" x2="525.0" y2="356.4" stroke="#111" stroke-width="1.9"/>
<line x1="442.8" y1="251.7" x2="447.0" y2="251.7" stroke="#111" stroke-width="1.5"/>
<text x="443.0" y="254.5" font-size="7.8" font-weight="bold" text-anchor="end" fill="#151515">600</text>
<line x1="442.8" y1="286.6" x2="447.0" y2="286.6" stroke="#111" stroke-width="1.5"/>
<text x="443.0" y="289.4" font-size="7.8" font-weight="bold" text-anchor="end" fill="#151515">400</text>
<line x1="442.8" y1="321.5" x2="447.0" y2="321.5" stroke="#111" stroke-width="1.5"/>
<text x="443.0" y="324.3" font-size="7.8" font-weight="bold" text-anchor="end" fill="#151515">200</text>
<line x1="442.8" y1="356.4" x2="447.0" y2="356.4" stroke="#111" stroke-width="1.5"/>
<text x="443.0" y="359.2" font-size="7.8" font-weight="bold" text-anchor="end" fill="#151515">0</text>
<line x1="463.0" y1="356.4" x2="463.0" y2="360.4" stroke="#111" stroke-width="1.5"/>
<line x1="486.4" y1="356.4" x2="486.4" y2="360.4" stroke="#111" stroke-width="1.5"/>
<line x1="510.5" y1="356.4" x2="510.5" y2="360.4" stroke="#111" stroke-width="1.5"/>
<text class="yl" x="0" y="0" font-size="8.35" font-weight="bold" text-anchor="middle" fill="#151515" transform="translate(421.6 311.3) rotate(-90)"># T<tspan font-size="5.8" dy="2">reg</tspan><tspan dy="-2">/mg tumor</tspan></text>
<line x1="459.0" y1="255.6" x2="504.4" y2="255.6" stroke="#111" stroke-width="1.5"/>
<polygon points="481.70,248.05 482.38,249.87 484.32,249.95 482.79,251.16 483.32,253.02 481.70,251.95 480.08,253.02 480.61,251.16 479.08,249.95 481.02,249.87" fill="#151515"/>
<line x1="479.4" y1="266.6" x2="504.4" y2="266.6" stroke="#111" stroke-width="1.5"/>
<polygon points="488.55,260.05 489.23,261.87 491.17,261.95 489.64,263.16 490.17,265.02 488.55,263.95 486.93,265.02 487.46,263.16 485.93,261.95 487.87,261.87" fill="#151515"/>
<polygon points="493.45,260.05 494.13,261.87 496.07,261.95 494.54,263.16 495.07,265.02 493.45,263.95 491.83,265.02 492.36,263.16 490.83,261.95 492.77,261.87" fill="#151515"/>
<line x1="463.4" y1="449.4" x2="463.4" y2="435.6" stroke="#1a1a1a" stroke-width="1.6"/>
<line x1="458.9" y1="435.6" x2="467.9" y2="435.6" stroke="#1a1a1a" stroke-width="1.6"/>
<rect x="456.1" y="449.4" width="14.7" height="35.0" fill="rgb(150,150,150)" stroke="#111" stroke-width="1.7"/>
<line x1="486.8" y1="442.1" x2="486.8" y2="424.7" stroke="#1a1a1a" stroke-width="1.6"/>
<line x1="482.3" y1="424.7" x2="491.3" y2="424.7" stroke="#1a1a1a" stroke-width="1.6"/>
<rect x="479.5" y="442.1" width="14.7" height="42.3" fill="rgb(22,52,232)" stroke="#0a0a70" stroke-width="1.7"/>
<line x1="510.4" y1="426.5" x2="510.4" y2="402.7" stroke="#1a1a1a" stroke-width="1.6"/>
<line x1="505.9" y1="402.7" x2="514.9" y2="402.7" stroke="#1a1a1a" stroke-width="1.6"/>
<rect x="503.2" y="426.5" width="14.4" height="57.9" fill="rgb(255,40,0)" stroke="#111" stroke-width="1.7"/>
<line x1="447.3" y1="380.0" x2="447.3" y2="485.3" stroke="#111" stroke-width="1.9"/>
<line x1="446.4" y1="484.4" x2="525.0" y2="484.4" stroke="#111" stroke-width="1.9"/>
<line x1="443.1" y1="380.6" x2="447.3" y2="380.6" stroke="#111" stroke-width="1.5"/>
<text x="443.3" y="383.4" font-size="7.8" font-weight="bold" text-anchor="end" fill="#151515">4.0</text>
<line x1="443.1" y1="406.6" x2="447.3" y2="406.6" stroke="#111" stroke-width="1.5"/>
<text x="443.3" y="409.4" font-size="7.8" font-weight="bold" text-anchor="end" fill="#151515">3.0</text>
<line x1="443.1" y1="432.5" x2="447.3" y2="432.5" stroke="#111" stroke-width="1.5"/>
<text x="443.3" y="435.3" font-size="7.8" font-weight="bold" text-anchor="end" fill="#151515">2.0</text>
<line x1="443.1" y1="458.4" x2="447.3" y2="458.4" stroke="#111" stroke-width="1.5"/>
<text x="443.3" y="461.3" font-size="7.8" font-weight="bold" text-anchor="end" fill="#151515">1.0</text>
<line x1="443.1" y1="484.4" x2="447.3" y2="484.4" stroke="#111" stroke-width="1.5"/>
<text x="443.3" y="487.2" font-size="7.8" font-weight="bold" text-anchor="end" fill="#151515">0</text>
<line x1="463.4" y1="484.4" x2="463.4" y2="488.4" stroke="#111" stroke-width="1.5"/>
<line x1="486.8" y1="484.4" x2="486.8" y2="488.4" stroke="#111" stroke-width="1.5"/>
<line x1="510.4" y1="484.4" x2="510.4" y2="488.4" stroke="#111" stroke-width="1.5"/>
<text class="yl" x="0" y="0" font-size="8.41" font-weight="bold" text-anchor="middle" fill="#151515" transform="translate(425.0 431.9) rotate(-90)"># T<tspan font-size="5.8" dy="2">reg</tspan><tspan dy="-2"> (x10</tspan><tspan font-size="5.4" dy="-3">5</tspan><tspan dy="3">)</tspan></text>
<line x1="459.0" y1="397.3" x2="504.4" y2="397.3" stroke="#111" stroke-width="1.5"/>
<polygon points="479.25,389.55 479.93,391.37 481.87,391.45 480.34,392.66 480.87,394.52 479.25,393.45 477.63,394.52 478.16,392.66 476.63,391.45 478.57,391.37" fill="#151515"/>
<polygon points="484.15,389.55 484.83,391.37 486.77,391.45 485.24,392.66 485.77,394.52 484.15,393.45 482.53,394.52 483.06,392.66 481.53,391.45 483.47,391.37" fill="#151515"/>
<text x="464.0" y="496.9" font-size="7.3" font-weight="bold" text-anchor="middle" fill="#151515" letter-spacing="-0.12">PBS</text>
<text x="487.4" y="496.9" font-size="7.3" font-weight="bold" text-anchor="middle" fill="#151515" letter-spacing="-0.12">N-803+</text>
<text x="511.0" y="496.9" font-size="7.3" font-weight="bold" text-anchor="middle" fill="#151515" letter-spacing="-0.12">N-809</text>
<text x="487.4" y="505.2" font-size="7.3" font-weight="bold" text-anchor="middle" fill="#151515">αPD-L1</text>
<line x1="577.8" y1="341.3" x2="577.8" y2="333.4" stroke="#1a1a1a" stroke-width="1.6"/>
<line x1="573.2" y1="333.4" x2="582.2" y2="333.4" stroke="#1a1a1a" stroke-width="1.6"/>
<rect x="571.4" y="341.3" width="12.8" height="15.1" fill="rgb(150,150,150)" stroke="#111" stroke-width="1.7"/>
<line x1="600.7" y1="344.3" x2="600.7" y2="335.5" stroke="#1a1a1a" stroke-width="1.6"/>
<line x1="596.2" y1="335.5" x2="605.2" y2="335.5" stroke="#1a1a1a" stroke-width="1.6"/>
<rect x="594.2" y="344.3" width="12.9" height="12.1" fill="rgb(22,52,232)" stroke="#0a0a70" stroke-width="1.7"/>
<line x1="624.2" y1="302.4" x2="624.2" y2="281.4" stroke="#1a1a1a" stroke-width="1.6"/>
<line x1="619.7" y1="281.4" x2="628.7" y2="281.4" stroke="#1a1a1a" stroke-width="1.6"/>
<rect x="617.9" y="302.4" width="12.7" height="54.0" fill="rgb(255,40,0)" stroke="#111" stroke-width="1.7"/>
<line x1="561.4" y1="251.1" x2="561.4" y2="357.3" stroke="#111" stroke-width="1.9"/>
<line x1="560.5" y1="356.4" x2="640.0" y2="356.4" stroke="#111" stroke-width="1.9"/>
<line x1="557.2" y1="251.7" x2="561.4" y2="251.7" stroke="#111" stroke-width="1.5"/>
<text x="557.4" y="254.5" font-size="7.8" font-weight="bold" text-anchor="end" fill="#151515">25</text>
<line x1="557.2" y1="272.6" x2="561.4" y2="272.6" stroke="#111" stroke-width="1.5"/>
<text x="557.4" y="275.4" font-size="7.8" font-weight="bold" text-anchor="end" fill="#151515">20</text>
<line x1="557.2" y1="293.6" x2="561.4" y2="293.6" stroke="#111" stroke-width="1.5"/>
<text x="557.4" y="296.4" font-size="7.8" font-weight="bold" text-anchor="end" fill="#151515">15</text>
<line x1="557.2" y1="314.5" x2="561.4" y2="314.5" stroke="#111" stroke-width="1.5"/>
<text x="557.4" y="317.3" font-size="7.8" font-weight="bold" text-anchor="end" fill="#151515">10</text>
<line x1="557.2" y1="335.5" x2="561.4" y2="335.5" stroke="#111" stroke-width="1.5"/>
<text x="557.4" y="338.3" font-size="7.8" font-weight="bold" text-anchor="end" fill="#151515">5</text>
<line x1="557.2" y1="356.4" x2="561.4" y2="356.4" stroke="#111" stroke-width="1.5"/>
<text x="557.4" y="359.2" font-size="7.8" font-weight="bold" text-anchor="end" fill="#151515">0</text>
<line x1="577.8" y1="356.4" x2="577.8" y2="360.4" stroke="#111" stroke-width="1.5"/>
<line x1="600.7" y1="356.4" x2="600.7" y2="360.4" stroke="#111" stroke-width="1.5"/>
<line x1="624.2" y1="356.4" x2="624.2" y2="360.4" stroke="#111" stroke-width="1.5"/>
<text class="yl" x="0" y="0" font-size="8.54" font-weight="bold" text-anchor="middle" fill="#151515" transform="translate(540.2 313.2) rotate(-90)">CD8<tspan font-size="5.4" dy="-3">+</tspan><tspan dy="3"> T Cell : T</tspan><tspan font-size="5.8" dy="2">reg</tspan><tspan dy="-2"></tspan></text>
<line x1="581.0" y1="265.0" x2="626.4" y2="265.0" stroke="#111" stroke-width="1.5"/>
<polygon points="598.80,257.05 599.48,258.87 601.42,258.95 599.89,260.16 600.42,262.02 598.80,260.95 597.18,262.02 597.71,260.16 596.18,258.95 598.12,258.87" fill="#151515"/>
<polygon points="603.70,257.05 604.38,258.87 606.32,258.95 604.79,260.16 605.32,262.02 603.70,260.95 602.08,262.02 602.61,260.16 601.08,258.95 603.02,258.87" fill="#151515"/>
<polygon points="608.60,257.05 609.28,258.87 611.22,258.95 609.69,260.16 610.22,262.02 608.60,260.95 606.98,262.02 607.51,260.16 605.98,258.95 607.92,258.87" fill="#151515"/>
<line x1="602.0" y1="277.5" x2="626.4" y2="277.5" stroke="#111" stroke-width="1.5"/>
<polygon points="607.00,270.05 607.68,271.87 609.62,271.95 608.09,273.16 608.62,275.02 607.00,273.95 605.38,275.02 605.91,273.16 604.38,271.95 606.32,271.87" fill="#151515"/>
<polygon points="611.90,270.05 612.58,271.87 614.52,271.95 612.99,273.16 613.52,275.02 611.90,273.95 610.28,275.02 610.81,273.16 609.28,271.95 611.22,271.87" fill="#151515"/>
<polygon points="616.80,270.05 617.48,271.87 619.42,271.95 617.89,273.16 618.42,275.02 616.80,273.95 615.18,275.02 615.71,273.16 614.18,271.95 616.12,271.87" fill="#151515"/>
<line x1="577.6" y1="460.4" x2="577.6" y2="456.9" stroke="#1a1a1a" stroke-width="1.6"/>
<line x1="573.1" y1="456.9" x2="582.1" y2="456.9" stroke="#1a1a1a" stroke-width="1.6"/>
<rect x="571.1" y="460.4" width="12.9" height="24.4" fill="rgb(150,150,150)" stroke="#111" stroke-width="1.7"/>
<line x1="600.8" y1="464.2" x2="600.8" y2="460.4" stroke="#1a1a1a" stroke-width="1.6"/>
<line x1="596.3" y1="460.4" x2="605.3" y2="460.4" stroke="#1a1a1a" stroke-width="1.6"/>
<rect x="594.1" y="464.2" width="13.3" height="20.6" fill="rgb(22,52,232)" stroke="#0a0a70" stroke-width="1.7"/>
<line x1="624.5" y1="425.2" x2="624.5" y2="404.6" stroke="#1a1a1a" stroke-width="1.6"/>
<line x1="620.0" y1="404.6" x2="629.0" y2="404.6" stroke="#1a1a1a" stroke-width="1.6"/>
<rect x="618.4" y="425.2" width="12.3" height="59.6" fill="rgb(255,40,0)" stroke="#111" stroke-width="1.7"/>
<line x1="562.0" y1="379.6" x2="562.0" y2="485.7" stroke="#111" stroke-width="1.9"/>
<line x1="561.1" y1="484.8" x2="640.0" y2="484.8" stroke="#111" stroke-width="1.9"/>
<line x1="557.8" y1="380.2" x2="562.0" y2="380.2" stroke="#111" stroke-width="1.5"/>
<text x="558.0" y="383.0" font-size="7.8" font-weight="bold" text-anchor="end" fill="#151515">30</text>
<line x1="557.8" y1="415.1" x2="562.0" y2="415.1" stroke="#111" stroke-width="1.5"/>
<text x="558.0" y="417.9" font-size="7.8" font-weight="bold" text-anchor="end" fill="#151515">20</text>
<line x1="557.8" y1="449.9" x2="562.0" y2="449.9" stroke="#111" stroke-width="1.5"/>
<text x="558.0" y="452.7" font-size="7.8" font-weight="bold" text-anchor="end" fill="#151515">10</text>
<line x1="557.8" y1="484.8" x2="562.0" y2="484.8" stroke="#111" stroke-width="1.5"/>
<text x="558.0" y="487.6" font-size="7.8" font-weight="bold" text-anchor="end" fill="#151515">0</text>
<line x1="577.6" y1="484.8" x2="577.6" y2="488.8" stroke="#111" stroke-width="1.5"/>
<line x1="600.8" y1="484.8" x2="600.8" y2="488.8" stroke="#111" stroke-width="1.5"/>
<line x1="624.5" y1="484.8" x2="624.5" y2="488.8" stroke="#111" stroke-width="1.5"/>
<text class="yl" x="0" y="0" font-size="8.54" font-weight="bold" text-anchor="middle" fill="#151515" transform="translate(540.2 442.5) rotate(-90)">CD8<tspan font-size="5.4" dy="-3">+</tspan><tspan dy="3"> T Cell : T</tspan><tspan font-size="5.8" dy="2">reg</tspan><tspan dy="-2"></tspan></text>
<line x1="580.8" y1="388.5" x2="626.6" y2="388.5" stroke="#111" stroke-width="1.5"/>
<polygon points="598.80,381.05 599.48,382.87 601.42,382.95 599.89,384.16 600.42,386.02 598.80,384.95 597.18,386.02 597.71,384.16 596.18,382.95 598.12,382.87" fill="#151515"/>
<polygon points="603.70,381.05 604.38,382.87 606.32,382.95 604.79,384.16 605.32,386.02 603.70,384.95 602.08,386.02 602.61,384.16 601.08,382.95 603.02,382.87" fill="#151515"/>
<polygon points="608.60,381.05 609.28,382.87 611.22,382.95 609.69,384.16 610.22,386.02 608.60,384.95 606.98,386.02 607.51,384.16 605.98,382.95 607.92,382.87" fill="#151515"/>
<line x1="602.0" y1="400.0" x2="626.6" y2="400.0" stroke="#111" stroke-width="1.5"/>
<polygon points="607.00,393.15 607.68,394.97 609.62,395.05 608.09,396.26 608.62,398.12 607.00,397.05 605.38,398.12 605.91,396.26 604.38,395.05 606.32,394.97" fill="#151515"/>
<polygon points="611.90,393.15 612.58,394.97 614.52,395.05 612.99,396.26 613.52,398.12 611.90,397.05 610.28,398.12 610.81,396.26 609.28,395.05 611.22,394.97" fill="#151515"/>
<polygon points="616.80,393.15 617.48,394.97 619.42,395.05 617.89,396.26 618.42,398.12 616.80,397.05 615.18,398.12 615.71,396.26 614.18,395.05 616.12,394.97" fill="#151515"/>
<text x="578.2" y="503.6" font-size="7.3" font-weight="bold" text-anchor="middle" fill="#151515" letter-spacing="-0.12">PBS</text>
<text x="601.4" y="503.6" font-size="7.3" font-weight="bold" text-anchor="middle" fill="#151515" letter-spacing="-0.12">N-803+</text>
<text x="625.1" y="503.6" font-size="7.3" font-weight="bold" text-anchor="middle" fill="#151515" letter-spacing="-0.12">N-809</text>
<text x="601.4" y="512.6" font-size="7.3" font-weight="bold" text-anchor="middle" fill="#151515">αPD-L1</text>
<line x1="100.8" y1="655.0" x2="100.8" y2="639.0" stroke="#1a1a1a" stroke-width="1.6"/>
<line x1="96.3" y1="639.0" x2="105.3" y2="639.0" stroke="#1a1a1a" stroke-width="1.6"/>
<rect x="93.5" y="655.0" width="14.6" height="43.9" fill="rgb(150,150,150)" stroke="#111" stroke-width="1.7"/>
<line x1="124.5" y1="653.4" x2="124.5" y2="625.3" stroke="#1a1a1a" stroke-width="1.6"/>
<line x1="120.0" y1="625.3" x2="128.9" y2="625.3" stroke="#1a1a1a" stroke-width="1.6"/>
<rect x="117.2" y="653.4" width="14.4" height="45.5" fill="rgb(22,52,232)" stroke="#0a0a70" stroke-width="1.7"/>
<line x1="148.5" y1="685.0" x2="148.5" y2="675.2" stroke="#1a1a1a" stroke-width="1.6"/>
<line x1="144.0" y1="675.2" x2="153.0" y2="675.2" stroke="#1a1a1a" stroke-width="1.6"/>
<rect x="141.2" y="685.0" width="14.5" height="13.9" fill="rgb(255,40,0)" stroke="#111" stroke-width="1.7"/>
<line x1="85.4" y1="593.1" x2="85.4" y2="699.8" stroke="#111" stroke-width="1.9"/>
<line x1="84.5" y1="698.9" x2="164.0" y2="698.9" stroke="#111" stroke-width="1.9"/>
<line x1="81.2" y1="593.8" x2="85.4" y2="593.8" stroke="#111" stroke-width="1.5"/>
<text x="81.4" y="596.6" font-size="7.8" font-weight="bold" text-anchor="end" fill="#151515">4.0</text>
<line x1="81.2" y1="620.0" x2="85.4" y2="620.0" stroke="#111" stroke-width="1.5"/>
<text x="81.4" y="622.8" font-size="7.8" font-weight="bold" text-anchor="end" fill="#151515">3.0</text>
<line x1="81.2" y1="646.3" x2="85.4" y2="646.3" stroke="#111" stroke-width="1.5"/>
<text x="81.4" y="649.1" font-size="7.8" font-weight="bold" text-anchor="end" fill="#151515">2.0</text>
<line x1="81.2" y1="672.6" x2="85.4" y2="672.6" stroke="#111" stroke-width="1.5"/>
<text x="81.4" y="675.4" font-size="7.8" font-weight="bold" text-anchor="end" fill="#151515">1.0</text>
<line x1="81.2" y1="698.9" x2="85.4" y2="698.9" stroke="#111" stroke-width="1.5"/>
<text x="81.4" y="701.7" font-size="7.8" font-weight="bold" text-anchor="end" fill="#151515">0</text>
<line x1="100.8" y1="698.9" x2="100.8" y2="702.9" stroke="#111" stroke-width="1.5"/>
<line x1="124.5" y1="698.9" x2="124.5" y2="702.9" stroke="#111" stroke-width="1.5"/>
<line x1="148.5" y1="698.9" x2="148.5" y2="702.9" stroke="#111" stroke-width="1.5"/>
<text class="yl" x="0" y="0" font-size="8.58" font-weight="bold" text-anchor="middle" fill="#151515" transform="translate(63.5 650.2) rotate(-90)"># M-MDSC (x10<tspan font-size="5.4" dy="-3">3</tspan><tspan dy="3">)/mg tumor</tspan></text>
<line x1="102.0" y1="606.6" x2="147.7" y2="606.6" stroke="#111" stroke-width="1.5"/>
<polygon points="122.35,598.85 123.03,600.67 124.97,600.75 123.44,601.96 123.97,603.82 122.35,602.75 120.73,603.82 121.26,601.96 119.73,600.75 121.67,600.67" fill="#151515"/>
<polygon points="127.25,598.85 127.93,600.67 129.87,600.75 128.34,601.96 128.87,603.82 127.25,602.75 125.63,603.82 126.16,601.96 124.63,600.75 126.57,600.67" fill="#151515"/>
<line x1="124.0" y1="618.7" x2="147.7" y2="618.7" stroke="#111" stroke-width="1.5"/>
<polygon points="133.35,610.95 134.03,612.77 135.97,612.85 134.44,614.06 134.97,615.92 133.35,614.85 131.73,615.92 132.26,614.06 130.73,612.85 132.67,612.77" fill="#151515"/>
<polygon points="138.25,610.95 138.93,612.77 140.87,612.85 139.34,614.06 139.87,615.92 138.25,614.85 136.63,615.92 137.16,614.06 135.63,612.85 137.57,612.77" fill="#151515"/>
<line x1="100.8" y1="819.1" x2="100.8" y2="813.9" stroke="#1a1a1a" stroke-width="1.6"/>
<line x1="96.3" y1="813.9" x2="105.3" y2="813.9" stroke="#1a1a1a" stroke-width="1.6"/>
<rect x="93.5" y="819.1" width="14.6" height="10.4" fill="rgb(150,150,150)" stroke="#111" stroke-width="1.7"/>
<line x1="124.6" y1="788.0" x2="124.6" y2="759.0" stroke="#1a1a1a" stroke-width="1.6"/>
<line x1="120.1" y1="759.0" x2="129.1" y2="759.0" stroke="#1a1a1a" stroke-width="1.6"/>
<rect x="117.5" y="788.0" width="14.1" height="41.5" fill="rgb(22,52,232)" stroke="#0a0a70" stroke-width="1.7"/>
<line x1="148.3" y1="784.5" x2="148.3" y2="757.3" stroke="#1a1a1a" stroke-width="1.6"/>
<line x1="143.8" y1="757.3" x2="152.8" y2="757.3" stroke="#1a1a1a" stroke-width="1.6"/>
<rect x="140.8" y="784.5" width="14.9" height="45.0" fill="rgb(255,40,0)" stroke="#111" stroke-width="1.7"/>
<line x1="85.4" y1="725.2" x2="85.4" y2="830.4" stroke="#111" stroke-width="1.9"/>
<line x1="84.5" y1="829.5" x2="164.0" y2="829.5" stroke="#111" stroke-width="1.9"/>
<line x1="81.2" y1="725.8" x2="85.4" y2="725.8" stroke="#111" stroke-width="1.5"/>
<text x="81.4" y="728.6" font-size="7.8" font-weight="bold" text-anchor="end" fill="#151515">5.0</text>
<line x1="81.2" y1="746.5" x2="85.4" y2="746.5" stroke="#111" stroke-width="1.5"/>
<text x="81.4" y="749.3" font-size="7.8" font-weight="bold" text-anchor="end" fill="#151515">4.0</text>
<line x1="81.2" y1="767.3" x2="85.4" y2="767.3" stroke="#111" stroke-width="1.5"/>
<text x="81.4" y="770.1" font-size="7.8" font-weight="bold" text-anchor="end" fill="#151515">3.0</text>
<line x1="81.2" y1="788.0" x2="85.4" y2="788.0" stroke="#111" stroke-width="1.5"/>
<text x="81.4" y="790.8" font-size="7.8" font-weight="bold" text-anchor="end" fill="#151515">2.0</text>
<line x1="81.2" y1="808.8" x2="85.4" y2="808.8" stroke="#111" stroke-width="1.5"/>
<text x="81.4" y="811.6" font-size="7.8" font-weight="bold" text-anchor="end" fill="#151515">1.0</text>
<line x1="81.2" y1="829.5" x2="85.4" y2="829.5" stroke="#111" stroke-width="1.5"/>
<text x="81.4" y="832.3" font-size="7.8" font-weight="bold" text-anchor="end" fill="#151515">0</text>
<line x1="100.8" y1="829.5" x2="100.8" y2="833.5" stroke="#111" stroke-width="1.5"/>
<line x1="124.6" y1="829.5" x2="124.6" y2="833.5" stroke="#111" stroke-width="1.5"/>
<line x1="148.3" y1="829.5" x2="148.3" y2="833.5" stroke="#111" stroke-width="1.5"/>
<text class="yl" x="0" y="0" font-size="8.45" font-weight="bold" text-anchor="middle" fill="#151515" transform="translate(63.5 778.3) rotate(-90)"># M-MDSC (x10<tspan font-size="5.4" dy="-3">3</tspan><tspan dy="3">)</tspan></text>
<line x1="104.3" y1="743.5" x2="149.7" y2="743.5" stroke="#111" stroke-width="1.5"/>
<polygon points="124.55,735.75 125.23,737.57 127.17,737.65 125.64,738.86 126.17,740.72 124.55,739.65 122.93,740.72 123.46,738.86 121.93,737.65 123.87,737.57" fill="#151515"/>
<polygon points="129.45,735.75 130.13,737.57 132.07,737.65 130.54,738.86 131.07,740.72 129.45,739.65 127.83,740.72 128.36,738.86 126.83,737.65 128.77,737.57" fill="#151515"/>
<line x1="103.0" y1="756.4" x2="127.0" y2="756.4" stroke="#111" stroke-width="1.5"/>
<polygon points="114.50,748.75 115.18,750.57 117.12,750.65 115.59,751.86 116.12,753.72 114.50,752.65 112.88,753.72 113.41,751.86 111.88,750.65 113.82,750.57" fill="#151515"/>
<text x="101.4" y="843.5" font-size="7.3" font-weight="bold" text-anchor="middle" fill="#151515" letter-spacing="-0.12">PBS</text>
<text x="125.2" y="843.5" font-size="7.3" font-weight="bold" text-anchor="middle" fill="#151515" letter-spacing="-0.12">N-803+</text>
<text x="148.9" y="843.5" font-size="7.3" font-weight="bold" text-anchor="middle" fill="#151515" letter-spacing="-0.12">N-809</text>
<text x="125.2" y="851.6" font-size="7.3" font-weight="bold" text-anchor="middle" fill="#151515">αPD-L1</text>
<line x1="222.8" y1="644.5" x2="222.8" y2="625.3" stroke="#1a1a1a" stroke-width="1.6"/>
<line x1="218.2" y1="625.3" x2="227.2" y2="625.3" stroke="#1a1a1a" stroke-width="1.6"/>
<rect x="215.4" y="644.5" width="14.6" height="54.4" fill="rgb(150,150,150)" stroke="#111" stroke-width="1.7"/>
<line x1="246.2" y1="664.2" x2="246.2" y2="649.4" stroke="#1a1a1a" stroke-width="1.6"/>
<line x1="241.7" y1="649.4" x2="250.7" y2="649.4" stroke="#1a1a1a" stroke-width="1.6"/>
<rect x="238.7" y="664.2" width="15.0" height="34.7" fill="rgb(22,52,232)" stroke="#0a0a70" stroke-width="1.7"/>
<line x1="269.5" y1="685.4" x2="269.5" y2="677.7" stroke="#1a1a1a" stroke-width="1.6"/>
<line x1="265.0" y1="677.7" x2="274.0" y2="677.7" stroke="#1a1a1a" stroke-width="1.6"/>
<rect x="262.2" y="685.4" width="14.7" height="13.5" fill="rgb(255,40,0)" stroke="#111" stroke-width="1.7"/>
<line x1="207.2" y1="593.5" x2="207.2" y2="699.8" stroke="#111" stroke-width="1.9"/>
<line x1="206.3" y1="698.9" x2="284.9" y2="698.9" stroke="#111" stroke-width="1.9"/>
<line x1="203.0" y1="594.1" x2="207.2" y2="594.1" stroke="#111" stroke-width="1.5"/>
<text x="203.2" y="596.9" font-size="7.8" font-weight="bold" text-anchor="end" fill="#151515">8.0</text>
<line x1="203.0" y1="620.3" x2="207.2" y2="620.3" stroke="#111" stroke-width="1.5"/>
<text x="203.2" y="623.1" font-size="7.8" font-weight="bold" text-anchor="end" fill="#151515">6.0</text>
<line x1="203.0" y1="646.5" x2="207.2" y2="646.5" stroke="#111" stroke-width="1.5"/>
<text x="203.2" y="649.3" font-size="7.8" font-weight="bold" text-anchor="end" fill="#151515">4.0</text>
<line x1="203.0" y1="672.7" x2="207.2" y2="672.7" stroke="#111" stroke-width="1.5"/>
<text x="203.2" y="675.5" font-size="7.8" font-weight="bold" text-anchor="end" fill="#151515">2.0</text>
<line x1="203.0" y1="698.9" x2="207.2" y2="698.9" stroke="#111" stroke-width="1.5"/>
<text x="203.2" y="701.7" font-size="7.8" font-weight="bold" text-anchor="end" fill="#151515">0</text>
<line x1="222.8" y1="698.9" x2="222.8" y2="702.9" stroke="#111" stroke-width="1.5"/>
<line x1="246.2" y1="698.9" x2="246.2" y2="702.9" stroke="#111" stroke-width="1.5"/>
<line x1="269.5" y1="698.9" x2="269.5" y2="702.9" stroke="#111" stroke-width="1.5"/>
<text class="yl" x="0" y="0" font-size="8.05" font-weight="bold" text-anchor="middle" fill="#151515" transform="translate(185.0 653.7) rotate(-90)"># Macrophages (x10<tspan font-size="5.4" dy="-3">3</tspan><tspan dy="3">)/mg tumor</tspan></text>
<line x1="224.4" y1="607.5" x2="270.0" y2="607.5" stroke="#111" stroke-width="1.5"/>
<polygon points="242.30,599.75 242.98,601.57 244.92,601.65 243.39,602.86 243.92,604.72 242.30,603.65 240.68,604.72 241.21,602.86 239.68,601.65 241.62,601.57" fill="#151515"/>
<polygon points="247.20,599.75 247.88,601.57 249.82,601.65 248.29,602.86 248.82,604.72 247.20,603.65 245.58,604.72 246.11,602.86 244.58,601.65 246.52,601.57" fill="#151515"/>
<polygon points="252.10,599.75 252.78,601.57 254.72,601.65 253.19,602.86 253.72,604.72 252.10,603.65 250.48,604.72 251.01,602.86 249.48,601.65 251.42,601.57" fill="#151515"/>
<line x1="223.0" y1="620.9" x2="246.7" y2="620.9" stroke="#111" stroke-width="1.5"/>
<polygon points="234.80,613.15 235.48,614.97 237.42,615.05 235.89,616.26 236.42,618.12 234.80,617.05 233.18,618.12 233.71,616.26 232.18,615.05 234.12,614.97" fill="#151515"/>
<line x1="248.8" y1="644.0" x2="272.5" y2="644.0" stroke="#111" stroke-width="1.5"/>
<polygon points="256.05,636.45 256.73,638.27 258.67,638.35 257.14,639.56 257.67,641.42 256.05,640.35 254.43,641.42 254.96,639.56 253.43,638.35 255.37,638.27" fill="#151515"/>
<polygon points="260.95,636.45 261.63,638.27 263.57,638.35 262.04,639.56 262.57,641.42 260.95,640.35 259.33,641.42 259.86,639.56 258.33,638.35 260.27,638.27" fill="#151515"/>
<line x1="222.8" y1="817.2" x2="222.8" y2="808.6" stroke="#1a1a1a" stroke-width="1.6"/>
<line x1="218.2" y1="808.6" x2="227.2" y2="808.6" stroke="#1a1a1a" stroke-width="1.6"/>
<rect x="215.4" y="817.2" width="14.6" height="12.3" fill="rgb(150,150,150)" stroke="#111" stroke-width="1.7"/>
<line x1="246.2" y1="804.3" x2="246.2" y2="787.2" stroke="#1a1a1a" stroke-width="1.6"/>
<line x1="241.7" y1="787.2" x2="250.7" y2="787.2" stroke="#1a1a1a" stroke-width="1.6"/>
<rect x="238.7" y="804.3" width="15.0" height="25.2" fill="rgb(22,52,232)" stroke="#0a0a70" stroke-width="1.7"/>
<line x1="269.5" y1="776.2" x2="269.5" y2="752.4" stroke="#1a1a1a" stroke-width="1.6"/>
<line x1="265.0" y1="752.4" x2="274.0" y2="752.4" stroke="#1a1a1a" stroke-width="1.6"/>
<rect x="262.2" y="776.2" width="14.7" height="53.3" fill="rgb(255,40,0)" stroke="#111" stroke-width="1.7"/>
<line x1="207.2" y1="725.7" x2="207.2" y2="830.4" stroke="#111" stroke-width="1.9"/>
<line x1="206.3" y1="829.5" x2="284.9" y2="829.5" stroke="#111" stroke-width="1.9"/>
<line x1="203.0" y1="726.3" x2="207.2" y2="726.3" stroke="#111" stroke-width="1.5"/>
<text x="203.2" y="729.1" font-size="7.8" font-weight="bold" text-anchor="end" fill="#151515">8.0</text>
<line x1="203.0" y1="752.1" x2="207.2" y2="752.1" stroke="#111" stroke-width="1.5"/>
<text x="203.2" y="754.9" font-size="7.8" font-weight="bold" text-anchor="end" fill="#151515">6.0</text>
<line x1="203.0" y1="777.9" x2="207.2" y2="777.9" stroke="#111" stroke-width="1.5"/>
<text x="203.2" y="780.7" font-size="7.8" font-weight="bold" text-anchor="end" fill="#151515">4.0</text>
<line x1="203.0" y1="803.7" x2="207.2" y2="803.7" stroke="#111" stroke-width="1.5"/>
<text x="203.2" y="806.5" font-size="7.8" font-weight="bold" text-anchor="end" fill="#151515">2.0</text>
<line x1="203.0" y1="829.5" x2="207.2" y2="829.5" stroke="#111" stroke-width="1.5"/>
<text x="203.2" y="832.3" font-size="7.8" font-weight="bold" text-anchor="end" fill="#151515">0</text>
<line x1="222.8" y1="829.5" x2="222.8" y2="833.5" stroke="#111" stroke-width="1.5"/>
<line x1="246.2" y1="829.5" x2="246.2" y2="833.5" stroke="#111" stroke-width="1.5"/>
<line x1="269.5" y1="829.5" x2="269.5" y2="833.5" stroke="#111" stroke-width="1.5"/>
<text class="yl" x="0" y="0" font-size="8.41" font-weight="bold" text-anchor="middle" fill="#151515" transform="translate(185.0 780.2) rotate(-90)"># Macrophages (x10<tspan font-size="5.4" dy="-3">4</tspan><tspan dy="3">)</tspan></text>
<line x1="224.4" y1="737.0" x2="270.0" y2="737.0" stroke="#111" stroke-width="1.5"/>
<polygon points="242.30,729.75 242.98,731.57 244.92,731.65 243.39,732.86 243.92,734.72 242.30,733.65 240.68,734.72 241.21,732.86 239.68,731.65 241.62,731.57" fill="#151515"/>
<polygon points="247.20,729.75 247.88,731.57 249.82,731.65 248.29,732.86 248.82,734.72 247.20,733.65 245.58,734.72 246.11,732.86 244.58,731.65 246.52,731.57" fill="#151515"/>
<polygon points="252.10,729.75 252.78,731.57 254.72,731.65 253.19,732.86 253.72,734.72 252.10,733.65 250.48,734.72 251.01,732.86 249.48,731.65 251.42,731.57" fill="#151515"/>
<line x1="246.4" y1="746.6" x2="270.0" y2="746.6" stroke="#111" stroke-width="1.5"/>
<polygon points="255.75,740.75 256.43,742.57 258.37,742.65 256.84,743.86 257.37,745.72 255.75,744.65 254.13,745.72 254.66,743.86 253.13,742.65 255.07,742.57" fill="#151515"/>
<polygon points="260.65,740.75 261.33,742.57 263.27,742.65 261.74,743.86 262.27,745.72 260.65,744.65 259.03,745.72 259.56,743.86 258.03,742.65 259.97,742.57" fill="#151515"/>
<text x="223.3" y="843.5" font-size="7.3" font-weight="bold" text-anchor="middle" fill="#151515" letter-spacing="-0.12">PBS</text>
<text x="246.8" y="843.5" font-size="7.3" font-weight="bold" text-anchor="middle" fill="#151515" letter-spacing="-0.12">N-803+</text>
<text x="270.1" y="843.5" font-size="7.3" font-weight="bold" text-anchor="middle" fill="#151515" letter-spacing="-0.12">N-809</text>
<text x="246.8" y="851.6" font-size="7.3" font-weight="bold" text-anchor="middle" fill="#151515">αPD-L1</text>
<line x1="342.5" y1="648.4" x2="342.5" y2="632.4" stroke="#1a1a1a" stroke-width="1.6"/>
<line x1="338.0" y1="632.4" x2="347.0" y2="632.4" stroke="#1a1a1a" stroke-width="1.6"/>
<rect x="336.1" y="648.4" width="12.9" height="50.2" fill="rgb(150,150,150)" stroke="#111" stroke-width="1.7"/>
<line x1="366.0" y1="647.7" x2="366.0" y2="626.8" stroke="#1a1a1a" stroke-width="1.6"/>
<line x1="361.5" y1="626.8" x2="370.5" y2="626.8" stroke="#1a1a1a" stroke-width="1.6"/>
<rect x="359.2" y="647.7" width="13.5" height="50.9" fill="rgb(22,52,232)" stroke="#0a0a70" stroke-width="1.7"/>
<line x1="389.4" y1="658.9" x2="389.4" y2="645.7" stroke="#1a1a1a" stroke-width="1.6"/>
<line x1="384.9" y1="645.7" x2="393.9" y2="645.7" stroke="#1a1a1a" stroke-width="1.6"/>
<rect x="383.1" y="658.9" width="12.7" height="39.7" fill="rgb(255,40,0)" stroke="#111" stroke-width="1.7"/>
<line x1="326.6" y1="593.5" x2="326.6" y2="699.5" stroke="#111" stroke-width="1.9"/>
<line x1="325.7" y1="698.6" x2="404.8" y2="698.6" stroke="#111" stroke-width="1.9"/>
<line x1="322.4" y1="594.1" x2="326.6" y2="594.1" stroke="#111" stroke-width="1.5"/>
<text x="322.6" y="596.9" font-size="7.8" font-weight="bold" text-anchor="end" fill="#151515">1.5</text>
<line x1="322.4" y1="628.9" x2="326.6" y2="628.9" stroke="#111" stroke-width="1.5"/>
<text x="322.6" y="631.7" font-size="7.8" font-weight="bold" text-anchor="end" fill="#151515">1.0</text>
<line x1="322.4" y1="663.8" x2="326.6" y2="663.8" stroke="#111" stroke-width="1.5"/>
<text x="322.6" y="666.6" font-size="7.8" font-weight="bold" text-anchor="end" fill="#151515">0.5</text>
<line x1="322.4" y1="698.6" x2="326.6" y2="698.6" stroke="#111" stroke-width="1.5"/>
<text x="322.6" y="701.4" font-size="7.8" font-weight="bold" text-anchor="end" fill="#151515">0.0</text>
<line x1="342.5" y1="698.6" x2="342.5" y2="702.6" stroke="#111" stroke-width="1.5"/>
<line x1="366.0" y1="698.6" x2="366.0" y2="702.6" stroke="#111" stroke-width="1.5"/>
<line x1="389.4" y1="698.6" x2="389.4" y2="702.6" stroke="#111" stroke-width="1.5"/>
<text class="yl" x="0" y="0" font-size="8.92" font-weight="bold" text-anchor="middle" fill="#151515" transform="translate(304.2 650.6) rotate(-90)"># M1-like (x10<tspan font-size="5.4" dy="-3">3</tspan><tspan dy="3">)/mg tumor</tspan></text>
<line x1="342.5" y1="819.5" x2="342.5" y2="810.3" stroke="#1a1a1a" stroke-width="1.6"/>
<line x1="338.0" y1="810.3" x2="347.0" y2="810.3" stroke="#1a1a1a" stroke-width="1.6"/>
<rect x="336.1" y="819.5" width="12.9" height="10.0" fill="rgb(150,150,150)" stroke="#111" stroke-width="1.7"/>
<line x1="366.0" y1="816.1" x2="366.0" y2="807.2" stroke="#1a1a1a" stroke-width="1.6"/>
<line x1="361.5" y1="807.2" x2="370.5" y2="807.2" stroke="#1a1a1a" stroke-width="1.6"/>
<rect x="359.2" y="816.1" width="13.5" height="13.4" fill="rgb(22,52,232)" stroke="#0a0a70" stroke-width="1.7"/>
<line x1="389.4" y1="773.8" x2="389.4" y2="754.3" stroke="#1a1a1a" stroke-width="1.6"/>
<line x1="384.9" y1="754.3" x2="393.9" y2="754.3" stroke="#1a1a1a" stroke-width="1.6"/>
<rect x="383.1" y="773.8" width="12.7" height="55.7" fill="rgb(255,40,0)" stroke="#111" stroke-width="1.7"/>
<line x1="326.6" y1="725.2" x2="326.6" y2="830.4" stroke="#111" stroke-width="1.9"/>
<line x1="325.7" y1="829.5" x2="404.8" y2="829.5" stroke="#111" stroke-width="1.9"/>
<line x1="322.4" y1="725.8" x2="326.6" y2="725.8" stroke="#111" stroke-width="1.5"/>
<text x="322.6" y="728.6" font-size="7.8" font-weight="bold" text-anchor="end" fill="#151515">8.0</text>
<line x1="322.4" y1="751.7" x2="326.6" y2="751.7" stroke="#111" stroke-width="1.5"/>
<text x="322.6" y="754.5" font-size="7.8" font-weight="bold" text-anchor="end" fill="#151515">6.0</text>
<line x1="322.4" y1="777.6" x2="326.6" y2="777.6" stroke="#111" stroke-width="1.5"/>
<text x="322.6" y="780.5" font-size="7.8" font-weight="bold" text-anchor="end" fill="#151515">4.0</text>
<line x1="322.4" y1="803.6" x2="326.6" y2="803.6" stroke="#111" stroke-width="1.5"/>
<text x="322.6" y="806.4" font-size="7.8" font-weight="bold" text-anchor="end" fill="#151515">2.0</text>
<line x1="322.4" y1="829.5" x2="326.6" y2="829.5" stroke="#111" stroke-width="1.5"/>
<text x="322.6" y="832.3" font-size="7.8" font-weight="bold" text-anchor="end" fill="#151515">0</text>
<line x1="342.5" y1="829.5" x2="342.5" y2="833.5" stroke="#111" stroke-width="1.5"/>
<line x1="366.0" y1="829.5" x2="366.0" y2="833.5" stroke="#111" stroke-width="1.5"/>
<line x1="389.4" y1="829.5" x2="389.4" y2="833.5" stroke="#111" stroke-width="1.5"/>
<text class="yl" x="0" y="0" font-size="8.61" font-weight="bold" text-anchor="middle" fill="#151515" transform="translate(304.2 778.3) rotate(-90)"># M1-like (x10<tspan font-size="5.4" dy="-3">4</tspan><tspan dy="3">)</tspan></text>
<line x1="347.8" y1="738.4" x2="392.8" y2="738.4" stroke="#111" stroke-width="1.5"/>
<polygon points="365.40,730.65 366.08,732.47 368.02,732.55 366.49,733.76 367.02,735.62 365.40,734.55 363.78,735.62 364.31,733.76 362.78,732.55 364.72,732.47" fill="#151515"/>
<polygon points="370.30,730.65 370.98,732.47 372.92,732.55 371.39,733.76 371.92,735.62 370.30,734.55 368.68,735.62 369.21,733.76 367.68,732.55 369.62,732.47" fill="#151515"/>
<polygon points="375.20,730.65 375.88,732.47 377.82,732.55 376.29,733.76 376.82,735.62 375.20,734.55 373.58,735.62 374.11,733.76 372.58,732.55 374.52,732.47" fill="#151515"/>
<line x1="368.4" y1="751.6" x2="392.8" y2="751.6" stroke="#111" stroke-width="1.5"/>
<polygon points="374.10,744.05 374.78,745.87 376.72,745.95 375.19,747.16 375.72,749.02 374.10,747.95 372.48,749.02 373.01,747.16 371.48,745.95 373.42,745.87" fill="#151515"/>
<polygon points="379.00,744.05 379.68,745.87 381.62,745.95 380.09,747.16 380.62,749.02 379.00,747.95 377.38,749.02 377.91,747.16 376.38,745.95 378.32,745.87" fill="#151515"/>
<polygon points="383.90,744.05 384.58,745.87 386.52,745.95 384.99,747.16 385.52,749.02 383.90,747.95 382.28,749.02 382.81,747.16 381.28,745.95 383.22,745.87" fill="#151515"/>
<text x="343.1" y="843.5" font-size="7.3" font-weight="bold" text-anchor="middle" fill="#151515" letter-spacing="-0.12">PBS</text>
<text x="366.6" y="843.5" font-size="7.3" font-weight="bold" text-anchor="middle" fill="#151515" letter-spacing="-0.12">N-803+</text>
<text x="390.0" y="843.5" font-size="7.3" font-weight="bold" text-anchor="middle" fill="#151515" letter-spacing="-0.12">N-809</text>
<text x="366.6" y="851.6" font-size="7.3" font-weight="bold" text-anchor="middle" fill="#151515">αPD-L1</text>
<line x1="463.4" y1="634.6" x2="463.4" y2="607.7" stroke="#1a1a1a" stroke-width="1.6"/>
<line x1="458.9" y1="607.7" x2="467.9" y2="607.7" stroke="#1a1a1a" stroke-width="1.6"/>
<rect x="457.0" y="634.6" width="12.9" height="64.0" fill="rgb(150,150,150)" stroke="#111" stroke-width="1.7"/>
<line x1="486.8" y1="657.6" x2="486.8" y2="639.0" stroke="#1a1a1a" stroke-width="1.6"/>
<line x1="482.3" y1="639.0" x2="491.3" y2="639.0" stroke="#1a1a1a" stroke-width="1.6"/>
<rect x="480.2" y="657.6" width="13.3" height="41.0" fill="rgb(22,52,232)" stroke="#0a0a70" stroke-width="1.7"/>
<line x1="510.3" y1="682.9" x2="510.3" y2="671.2" stroke="#1a1a1a" stroke-width="1.6"/>
<line x1="505.8" y1="671.2" x2="514.8" y2="671.2" stroke="#1a1a1a" stroke-width="1.6"/>
<rect x="503.9" y="682.9" width="12.9" height="15.7" fill="rgb(255,40,0)" stroke="#111" stroke-width="1.7"/>
<line x1="447.2" y1="593.5" x2="447.2" y2="699.5" stroke="#111" stroke-width="1.9"/>
<line x1="446.3" y1="698.6" x2="525.2" y2="698.6" stroke="#111" stroke-width="1.9"/>
<line x1="443.0" y1="594.1" x2="447.2" y2="594.1" stroke="#111" stroke-width="1.5"/>
<text x="443.2" y="596.9" font-size="7.8" font-weight="bold" text-anchor="end" fill="#151515">4.0</text>
<line x1="443.0" y1="620.2" x2="447.2" y2="620.2" stroke="#111" stroke-width="1.5"/>
<text x="443.2" y="623.0" font-size="7.8" font-weight="bold" text-anchor="end" fill="#151515">3.0</text>
<line x1="443.0" y1="646.4" x2="447.2" y2="646.4" stroke="#111" stroke-width="1.5"/>
<text x="443.2" y="649.2" font-size="7.8" font-weight="bold" text-anchor="end" fill="#151515">2.0</text>
<line x1="443.0" y1="672.5" x2="447.2" y2="672.5" stroke="#111" stroke-width="1.5"/>
<text x="443.2" y="675.3" font-size="7.8" font-weight="bold" text-anchor="end" fill="#151515">1.0</text>
<line x1="443.0" y1="698.6" x2="447.2" y2="698.6" stroke="#111" stroke-width="1.5"/>
<text x="443.2" y="701.4" font-size="7.8" font-weight="bold" text-anchor="end" fill="#151515">0</text>
<line x1="463.4" y1="698.6" x2="463.4" y2="702.6" stroke="#111" stroke-width="1.5"/>
<line x1="486.8" y1="698.6" x2="486.8" y2="702.6" stroke="#111" stroke-width="1.5"/>
<line x1="510.3" y1="698.6" x2="510.3" y2="702.6" stroke="#111" stroke-width="1.5"/>
<text class="yl" x="0" y="0" font-size="8.77" font-weight="bold" text-anchor="middle" fill="#151515" transform="translate(425.0 649.5) rotate(-90)"># M2-like (x10<tspan font-size="5.4" dy="-3">3</tspan><tspan dy="3">)/mg tumor</tspan></text>
<line x1="464.3" y1="604.0" x2="509.7" y2="604.0" stroke="#111" stroke-width="1.5"/>
<polygon points="484.55,596.25 485.23,598.07 487.17,598.15 485.64,599.36 486.17,601.22 484.55,600.15 482.93,601.22 483.46,599.36 481.93,598.15 483.87,598.07" fill="#151515"/>
<polygon points="489.45,596.25 490.13,598.07 492.07,598.15 490.54,599.36 491.07,601.22 489.45,600.15 487.83,601.22 488.36,599.36 486.83,598.15 488.77,598.07" fill="#151515"/>
<line x1="463.4" y1="814.5" x2="463.4" y2="802.2" stroke="#1a1a1a" stroke-width="1.6"/>
<line x1="458.9" y1="802.2" x2="467.9" y2="802.2" stroke="#1a1a1a" stroke-width="1.6"/>
<rect x="457.0" y="814.5" width="12.9" height="15.0" fill="rgb(150,150,150)" stroke="#111" stroke-width="1.7"/>
<line x1="486.8" y1="791.3" x2="486.8" y2="755.7" stroke="#1a1a1a" stroke-width="1.6"/>
<line x1="482.3" y1="755.7" x2="491.3" y2="755.7" stroke="#1a1a1a" stroke-width="1.6"/>
<rect x="480.2" y="791.3" width="13.3" height="38.2" fill="rgb(22,52,232)" stroke="#0a0a70" stroke-width="1.7"/>
<line x1="510.3" y1="796.5" x2="510.3" y2="784.1" stroke="#1a1a1a" stroke-width="1.6"/>
<line x1="505.8" y1="784.1" x2="514.8" y2="784.1" stroke="#1a1a1a" stroke-width="1.6"/>
<rect x="503.9" y="796.5" width="12.9" height="33.0" fill="rgb(255,40,0)" stroke="#111" stroke-width="1.7"/>
<line x1="447.2" y1="725.7" x2="447.2" y2="830.4" stroke="#111" stroke-width="1.9"/>
<line x1="446.3" y1="829.5" x2="525.2" y2="829.5" stroke="#111" stroke-width="1.9"/>
<line x1="443.0" y1="726.3" x2="447.2" y2="726.3" stroke="#111" stroke-width="1.5"/>
<text x="443.2" y="729.1" font-size="7.8" font-weight="bold" text-anchor="end" fill="#151515">2.0</text>
<line x1="443.0" y1="752.1" x2="447.2" y2="752.1" stroke="#111" stroke-width="1.5"/>
<text x="443.2" y="754.9" font-size="7.8" font-weight="bold" text-anchor="end" fill="#151515">1.5</text>
<line x1="443.0" y1="777.9" x2="447.2" y2="777.9" stroke="#111" stroke-width="1.5"/>
<text x="443.2" y="780.7" font-size="7.8" font-weight="bold" text-anchor="end" fill="#151515">1.0</text>
<line x1="443.0" y1="803.7" x2="447.2" y2="803.7" stroke="#111" stroke-width="1.5"/>
<text x="443.2" y="806.5" font-size="7.8" font-weight="bold" text-anchor="end" fill="#151515">0.5</text>
<line x1="443.0" y1="829.5" x2="447.2" y2="829.5" stroke="#111" stroke-width="1.5"/>
<text x="443.2" y="832.3" font-size="7.8" font-weight="bold" text-anchor="end" fill="#151515">0.0</text>
<line x1="463.4" y1="829.5" x2="463.4" y2="833.5" stroke="#111" stroke-width="1.5"/>
<line x1="486.8" y1="829.5" x2="486.8" y2="833.5" stroke="#111" stroke-width="1.5"/>
<line x1="510.3" y1="829.5" x2="510.3" y2="833.5" stroke="#111" stroke-width="1.5"/>
<text class="yl" x="0" y="0" font-size="8.30" font-weight="bold" text-anchor="middle" fill="#151515" transform="translate(425.0 778.3) rotate(-90)"># M2-like (x10<tspan font-size="5.4" dy="-3">5</tspan><tspan dy="3">)</tspan></text>
<text x="464.0" y="843.5" font-size="7.3" font-weight="bold" text-anchor="middle" fill="#151515" letter-spacing="-0.12">PBS</text>
<text x="487.4" y="843.5" font-size="7.3" font-weight="bold" text-anchor="middle" fill="#151515" letter-spacing="-0.12">N-803+</text>
<text x="510.9" y="843.5" font-size="7.3" font-weight="bold" text-anchor="middle" fill="#151515" letter-spacing="-0.12">N-809</text>
<text x="487.4" y="851.6" font-size="7.3" font-weight="bold" text-anchor="middle" fill="#151515">αPD-L1</text>
<line x1="577.5" y1="682.7" x2="577.5" y2="679.0" stroke="#1a1a1a" stroke-width="1.6"/>
<line x1="573.0" y1="679.0" x2="582.0" y2="679.0" stroke="#1a1a1a" stroke-width="1.6"/>
<rect x="571.2" y="682.7" width="12.6" height="15.6" fill="rgb(150,150,150)" stroke="#111" stroke-width="1.7"/>
<line x1="600.8" y1="671.2" x2="600.8" y2="659.2" stroke="#1a1a1a" stroke-width="1.6"/>
<line x1="596.2" y1="659.2" x2="605.2" y2="659.2" stroke="#1a1a1a" stroke-width="1.6"/>
<rect x="594.1" y="671.2" width="13.2" height="27.1" fill="rgb(22,52,232)" stroke="#0a0a70" stroke-width="1.7"/>
<line x1="624.1" y1="641.0" x2="624.1" y2="616.0" stroke="#1a1a1a" stroke-width="1.6"/>
<line x1="619.6" y1="616.0" x2="628.6" y2="616.0" stroke="#1a1a1a" stroke-width="1.6"/>
<rect x="617.6" y="641.0" width="12.9" height="57.3" fill="rgb(255,40,0)" stroke="#111" stroke-width="1.7"/>
<line x1="561.5" y1="593.5" x2="561.5" y2="699.2" stroke="#111" stroke-width="1.9"/>
<line x1="560.6" y1="698.3" x2="640.0" y2="698.3" stroke="#111" stroke-width="1.9"/>
<line x1="557.3" y1="594.1" x2="561.5" y2="594.1" stroke="#111" stroke-width="1.5"/>
<text x="557.5" y="596.9" font-size="7.8" font-weight="bold" text-anchor="end" fill="#151515">2.0</text>
<line x1="557.3" y1="620.1" x2="561.5" y2="620.1" stroke="#111" stroke-width="1.5"/>
<text x="557.5" y="623.0" font-size="7.8" font-weight="bold" text-anchor="end" fill="#151515">1.5</text>
<line x1="557.3" y1="646.2" x2="561.5" y2="646.2" stroke="#111" stroke-width="1.5"/>
<text x="557.5" y="649.0" font-size="7.8" font-weight="bold" text-anchor="end" fill="#151515">1.0</text>
<line x1="557.3" y1="672.2" x2="561.5" y2="672.2" stroke="#111" stroke-width="1.5"/>
<text x="557.5" y="675.1" font-size="7.8" font-weight="bold" text-anchor="end" fill="#151515">0.5</text>
<line x1="557.3" y1="698.3" x2="561.5" y2="698.3" stroke="#111" stroke-width="1.5"/>
<text x="557.5" y="701.1" font-size="7.8" font-weight="bold" text-anchor="end" fill="#151515">0.0</text>
<line x1="577.5" y1="698.3" x2="577.5" y2="702.3" stroke="#111" stroke-width="1.5"/>
<line x1="600.8" y1="698.3" x2="600.8" y2="702.3" stroke="#111" stroke-width="1.5"/>
<line x1="624.1" y1="698.3" x2="624.1" y2="702.3" stroke="#111" stroke-width="1.5"/>
<text class="yl" x="0" y="0" font-size="8.60" font-weight="bold" text-anchor="middle" fill="#151515" transform="translate(540.5 649.5) rotate(-90)">M1-like : M2-like</text>
<line x1="581.2" y1="599.3" x2="626.6" y2="599.3" stroke="#111" stroke-width="1.5"/>
<polygon points="601.45,591.55 602.13,593.37 604.07,593.45 602.54,594.66 603.07,596.52 601.45,595.45 599.83,596.52 600.36,594.66 598.83,593.45 600.77,593.37" fill="#151515"/>
<polygon points="606.35,591.55 607.03,593.37 608.97,593.45 607.44,594.66 607.97,596.52 606.35,595.45 604.73,596.52 605.26,594.66 603.73,593.45 605.67,593.37" fill="#151515"/>
<line x1="601.8" y1="611.5" x2="626.6" y2="611.5" stroke="#111" stroke-width="1.5"/>
<polygon points="612.70,603.55 613.38,605.37 615.32,605.45 613.79,606.66 614.32,608.52 612.70,607.45 611.08,608.52 611.61,606.66 610.08,605.45 612.02,605.37" fill="#151515"/>
<line x1="577.5" y1="802.3" x2="577.5" y2="787.9" stroke="#1a1a1a" stroke-width="1.6"/>
<line x1="573.0" y1="787.9" x2="582.0" y2="787.9" stroke="#1a1a1a" stroke-width="1.6"/>
<rect x="571.2" y="802.3" width="12.6" height="26.7" fill="rgb(150,150,150)" stroke="#111" stroke-width="1.7"/>
<line x1="600.8" y1="812.1" x2="600.8" y2="804.9" stroke="#1a1a1a" stroke-width="1.6"/>
<line x1="596.2" y1="804.9" x2="605.2" y2="804.9" stroke="#1a1a1a" stroke-width="1.6"/>
<rect x="594.1" y="812.1" width="13.2" height="16.9" fill="rgb(22,52,232)" stroke="#0a0a70" stroke-width="1.7"/>
<line x1="624.1" y1="758.7" x2="624.1" y2="741.7" stroke="#1a1a1a" stroke-width="1.6"/>
<line x1="619.6" y1="741.7" x2="628.6" y2="741.7" stroke="#1a1a1a" stroke-width="1.6"/>
<rect x="617.6" y="758.7" width="12.9" height="70.3" fill="rgb(255,40,0)" stroke="#111" stroke-width="1.7"/>
<line x1="561.8" y1="725.7" x2="561.8" y2="829.9" stroke="#111" stroke-width="1.9"/>
<line x1="560.9" y1="829.0" x2="640.0" y2="829.0" stroke="#111" stroke-width="1.9"/>
<line x1="557.6" y1="726.3" x2="561.8" y2="726.3" stroke="#111" stroke-width="1.5"/>
<text x="557.8" y="729.1" font-size="7.8" font-weight="bold" text-anchor="end" fill="#151515">10</text>
<line x1="557.6" y1="746.8" x2="561.8" y2="746.8" stroke="#111" stroke-width="1.5"/>
<text x="557.8" y="749.6" font-size="7.8" font-weight="bold" text-anchor="end" fill="#151515">8</text>
<line x1="557.6" y1="767.4" x2="561.8" y2="767.4" stroke="#111" stroke-width="1.5"/>
<text x="557.8" y="770.2" font-size="7.8" font-weight="bold" text-anchor="end" fill="#151515">6</text>
<line x1="557.6" y1="787.9" x2="561.8" y2="787.9" stroke="#111" stroke-width="1.5"/>
<text x="557.8" y="790.7" font-size="7.8" font-weight="bold" text-anchor="end" fill="#151515">4</text>
<line x1="557.6" y1="808.5" x2="561.8" y2="808.5" stroke="#111" stroke-width="1.5"/>
<text x="557.8" y="811.3" font-size="7.8" font-weight="bold" text-anchor="end" fill="#151515">2</text>
<line x1="557.6" y1="829.0" x2="561.8" y2="829.0" stroke="#111" stroke-width="1.5"/>
<text x="557.8" y="831.8" font-size="7.8" font-weight="bold" text-anchor="end" fill="#151515">0</text>
<line x1="577.5" y1="829.0" x2="577.5" y2="833.0" stroke="#111" stroke-width="1.5"/>
<line x1="600.8" y1="829.0" x2="600.8" y2="833.0" stroke="#111" stroke-width="1.5"/>
<line x1="624.1" y1="829.0" x2="624.1" y2="833.0" stroke="#111" stroke-width="1.5"/>
<text class="yl" x="0" y="0" font-size="8.60" font-weight="bold" text-anchor="middle" fill="#151515" transform="translate(540.5 782.1) rotate(-90)">M1-like : M2-like</text>
<line x1="579.8" y1="731.5" x2="624.9" y2="731.5" stroke="#111" stroke-width="1.5"/>
<polygon points="598.50,723.75 599.18,725.57 601.12,725.65 599.59,726.86 600.12,728.72 598.50,727.65 596.88,728.72 597.41,726.86 595.88,725.65 597.82,725.57" fill="#151515"/>
<polygon points="603.40,723.75 604.08,725.57 606.02,725.65 604.49,726.86 605.02,728.72 603.40,727.65 601.78,728.72 602.31,726.86 600.78,725.65 602.72,725.57" fill="#151515"/>
<polygon points="608.30,723.75 608.98,725.57 610.92,725.65 609.39,726.86 609.92,728.72 608.30,727.65 606.68,728.72 607.21,726.86 605.68,725.65 607.62,725.57" fill="#151515"/>
<line x1="600.8" y1="737.2" x2="624.9" y2="737.2" stroke="#111" stroke-width="1.5"/>
<polygon points="602.90,740.55 603.58,742.37 605.52,742.45 603.99,743.66 604.52,745.52 602.90,744.45 601.28,745.52 601.81,743.66 600.28,742.45 602.22,742.37" fill="#151515"/>
<polygon points="607.80,740.55 608.48,742.37 610.42,742.45 608.89,743.66 609.42,745.52 607.80,744.45 606.18,745.52 606.71,743.66 605.18,742.45 607.12,742.37" fill="#151515"/>
<polygon points="612.70,740.55 613.38,742.37 615.32,742.45 613.79,743.66 614.32,745.52 612.70,744.45 611.08,745.52 611.61,743.66 610.08,742.45 612.02,742.37" fill="#151515"/>
<text x="578.1" y="843.5" font-size="7.3" font-weight="bold" text-anchor="middle" fill="#151515" letter-spacing="-0.12">PBS</text>
<text x="601.4" y="843.5" font-size="7.3" font-weight="bold" text-anchor="middle" fill="#151515" letter-spacing="-0.12">N-803+</text>
<text x="624.7" y="843.5" font-size="7.3" font-weight="bold" text-anchor="middle" fill="#151515" letter-spacing="-0.12">N-809</text>
<text x="601.4" y="851.6" font-size="7.3" font-weight="bold" text-anchor="middle" fill="#151515">αPD-L1</text>
</svg></body></html>
